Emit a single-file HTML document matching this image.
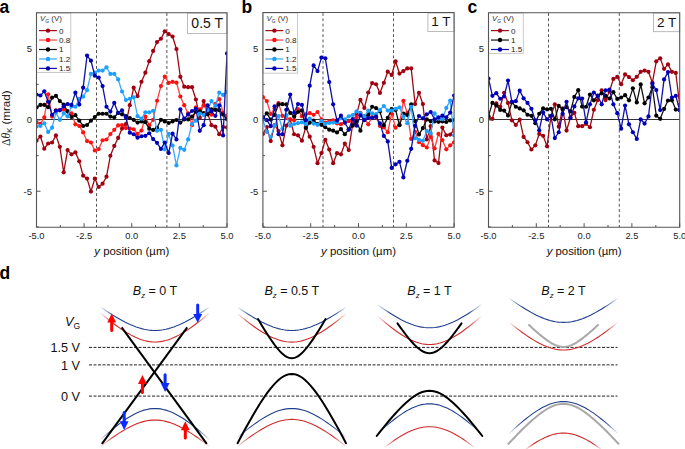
<!DOCTYPE html>
<html><head><meta charset="utf-8"><style>
html,body{margin:0;padding:0;background:#fff;width:685px;height:449px;overflow:hidden}
svg{display:block}
</style></head><body>
<svg width="685" height="449" viewBox="0 0 685 449">
<rect width="685" height="449" fill="#fff"/>
<clipPath id="cpa"><rect x="36.5" y="13.0" width="190.5" height="214.2"/></clipPath>
<line x1="96.50" y1="13.0" x2="96.50" y2="227.2" stroke="#555" stroke-width="1" stroke-dasharray="2.9,2.4"/>
<line x1="166.90" y1="13.0" x2="166.90" y2="227.2" stroke="#555" stroke-width="1" stroke-dasharray="2.9,2.4"/>
<line x1="36.5" y1="119.5" x2="227.0" y2="119.5" stroke="#333" stroke-width="1"/>
<g clip-path="url(#cpa)">
<polyline points="36.50,140.66 40.39,136.53 44.28,148.64 48.16,143.51 52.05,142.51 55.94,135.39 59.83,146.79 63.71,172.30 67.60,150.07 71.49,154.34 75.38,152.35 79.27,161.32 83.15,175.72 87.04,178.57 90.93,191.53 94.82,178.57 98.70,186.98 102.59,183.70 106.48,176.72 110.37,155.77 114.26,145.94 118.14,137.96 122.03,128.55 125.92,123.99 129.81,105.18 133.69,87.65 137.58,96.06 141.47,81.81 145.36,72.69 149.24,61.15 153.13,50.89 157.02,42.05 160.91,38.77 164.80,31.37 168.68,34.07 172.57,36.49 176.46,49.03 180.35,76.82 184.23,86.66 188.12,87.22 192.01,87.22 195.90,99.48 199.79,117.72 203.67,101.05 207.56,112.88 211.45,125.13 215.34,126.70 219.22,134.25 223.11,127.12 227.00,127.41" fill="none" stroke="#a00812" stroke-width="1.3" stroke-linejoin="round"/>
<circle cx="36.50" cy="140.66" r="2.1" fill="#a00010"/>
<circle cx="40.39" cy="136.53" r="2.1" fill="#a00010"/>
<circle cx="44.28" cy="148.64" r="2.1" fill="#a00010"/>
<circle cx="48.16" cy="143.51" r="2.1" fill="#a00010"/>
<circle cx="52.05" cy="142.51" r="2.1" fill="#a00010"/>
<circle cx="55.94" cy="135.39" r="2.1" fill="#a00010"/>
<circle cx="59.83" cy="146.79" r="2.1" fill="#a00010"/>
<circle cx="63.71" cy="172.30" r="2.1" fill="#a00010"/>
<circle cx="67.60" cy="150.07" r="2.1" fill="#a00010"/>
<circle cx="71.49" cy="154.34" r="2.1" fill="#a00010"/>
<circle cx="75.38" cy="152.35" r="2.1" fill="#a00010"/>
<circle cx="79.27" cy="161.32" r="2.1" fill="#a00010"/>
<circle cx="83.15" cy="175.72" r="2.1" fill="#a00010"/>
<circle cx="87.04" cy="178.57" r="2.1" fill="#a00010"/>
<circle cx="90.93" cy="191.53" r="2.1" fill="#a00010"/>
<circle cx="94.82" cy="178.57" r="2.1" fill="#a00010"/>
<circle cx="98.70" cy="186.98" r="2.1" fill="#a00010"/>
<circle cx="102.59" cy="183.70" r="2.1" fill="#a00010"/>
<circle cx="106.48" cy="176.72" r="2.1" fill="#a00010"/>
<circle cx="110.37" cy="155.77" r="2.1" fill="#a00010"/>
<circle cx="114.26" cy="145.94" r="2.1" fill="#a00010"/>
<circle cx="118.14" cy="137.96" r="2.1" fill="#a00010"/>
<circle cx="122.03" cy="128.55" r="2.1" fill="#a00010"/>
<circle cx="125.92" cy="123.99" r="2.1" fill="#a00010"/>
<circle cx="129.81" cy="105.18" r="2.1" fill="#a00010"/>
<circle cx="133.69" cy="87.65" r="2.1" fill="#a00010"/>
<circle cx="137.58" cy="96.06" r="2.1" fill="#a00010"/>
<circle cx="141.47" cy="81.81" r="2.1" fill="#a00010"/>
<circle cx="145.36" cy="72.69" r="2.1" fill="#a00010"/>
<circle cx="149.24" cy="61.15" r="2.1" fill="#a00010"/>
<circle cx="153.13" cy="50.89" r="2.1" fill="#a00010"/>
<circle cx="157.02" cy="42.05" r="2.1" fill="#a00010"/>
<circle cx="160.91" cy="38.77" r="2.1" fill="#a00010"/>
<circle cx="164.80" cy="31.37" r="2.1" fill="#a00010"/>
<circle cx="168.68" cy="34.07" r="2.1" fill="#a00010"/>
<circle cx="172.57" cy="36.49" r="2.1" fill="#a00010"/>
<circle cx="176.46" cy="49.03" r="2.1" fill="#a00010"/>
<circle cx="180.35" cy="76.82" r="2.1" fill="#a00010"/>
<circle cx="184.23" cy="86.66" r="2.1" fill="#a00010"/>
<circle cx="188.12" cy="87.22" r="2.1" fill="#a00010"/>
<circle cx="192.01" cy="87.22" r="2.1" fill="#a00010"/>
<circle cx="195.90" cy="99.48" r="2.1" fill="#a00010"/>
<circle cx="199.79" cy="117.72" r="2.1" fill="#a00010"/>
<circle cx="203.67" cy="101.05" r="2.1" fill="#a00010"/>
<circle cx="207.56" cy="112.88" r="2.1" fill="#a00010"/>
<circle cx="211.45" cy="125.13" r="2.1" fill="#a00010"/>
<circle cx="215.34" cy="126.70" r="2.1" fill="#a00010"/>
<circle cx="219.22" cy="134.25" r="2.1" fill="#a00010"/>
<circle cx="223.11" cy="127.12" r="2.1" fill="#a00010"/>
<circle cx="227.00" cy="127.41" r="2.1" fill="#a00010"/>
<polyline points="36.50,122.42 40.39,123.85 44.28,117.44 48.16,94.35 52.05,116.58 55.94,110.31 59.83,110.31 63.71,109.60 67.60,111.31 71.49,113.30 75.38,124.28 79.27,125.98 83.15,132.40 87.04,141.09 90.93,142.51 94.82,150.50 98.70,149.07 102.59,140.24 106.48,139.52 110.37,134.11 114.26,129.83 118.14,125.42 122.03,125.13 125.92,128.12 129.81,128.55 133.69,129.26 137.58,133.97 141.47,130.54 145.36,116.72 149.24,125.13 153.13,119.86 157.02,100.76 160.91,86.09 164.80,76.54 168.68,82.95 172.57,81.81 176.46,82.66 180.35,96.49 184.23,105.18 188.12,113.44 192.01,125.13 195.90,107.32 199.79,109.31 203.67,105.32 207.56,111.45 211.45,114.73 215.34,103.75 219.22,99.19 223.11,112.73 227.00,115.72" fill="none" stroke="#ff4040" stroke-width="1.3" stroke-linejoin="round"/>
<circle cx="36.50" cy="122.42" r="2.1" fill="#ff1010"/>
<circle cx="40.39" cy="123.85" r="2.1" fill="#ff1010"/>
<circle cx="44.28" cy="117.44" r="2.1" fill="#ff1010"/>
<circle cx="48.16" cy="94.35" r="2.1" fill="#ff1010"/>
<circle cx="52.05" cy="116.58" r="2.1" fill="#ff1010"/>
<circle cx="55.94" cy="110.31" r="2.1" fill="#ff1010"/>
<circle cx="59.83" cy="110.31" r="2.1" fill="#ff1010"/>
<circle cx="63.71" cy="109.60" r="2.1" fill="#ff1010"/>
<circle cx="67.60" cy="111.31" r="2.1" fill="#ff1010"/>
<circle cx="71.49" cy="113.30" r="2.1" fill="#ff1010"/>
<circle cx="75.38" cy="124.28" r="2.1" fill="#ff1010"/>
<circle cx="79.27" cy="125.98" r="2.1" fill="#ff1010"/>
<circle cx="83.15" cy="132.40" r="2.1" fill="#ff1010"/>
<circle cx="87.04" cy="141.09" r="2.1" fill="#ff1010"/>
<circle cx="90.93" cy="142.51" r="2.1" fill="#ff1010"/>
<circle cx="94.82" cy="150.50" r="2.1" fill="#ff1010"/>
<circle cx="98.70" cy="149.07" r="2.1" fill="#ff1010"/>
<circle cx="102.59" cy="140.24" r="2.1" fill="#ff1010"/>
<circle cx="106.48" cy="139.52" r="2.1" fill="#ff1010"/>
<circle cx="110.37" cy="134.11" r="2.1" fill="#ff1010"/>
<circle cx="114.26" cy="129.83" r="2.1" fill="#ff1010"/>
<circle cx="118.14" cy="125.42" r="2.1" fill="#ff1010"/>
<circle cx="122.03" cy="125.13" r="2.1" fill="#ff1010"/>
<circle cx="125.92" cy="128.12" r="2.1" fill="#ff1010"/>
<circle cx="129.81" cy="128.55" r="2.1" fill="#ff1010"/>
<circle cx="133.69" cy="129.26" r="2.1" fill="#ff1010"/>
<circle cx="137.58" cy="133.97" r="2.1" fill="#ff1010"/>
<circle cx="141.47" cy="130.54" r="2.1" fill="#ff1010"/>
<circle cx="145.36" cy="116.72" r="2.1" fill="#ff1010"/>
<circle cx="149.24" cy="125.13" r="2.1" fill="#ff1010"/>
<circle cx="153.13" cy="119.86" r="2.1" fill="#ff1010"/>
<circle cx="157.02" cy="100.76" r="2.1" fill="#ff1010"/>
<circle cx="160.91" cy="86.09" r="2.1" fill="#ff1010"/>
<circle cx="164.80" cy="76.54" r="2.1" fill="#ff1010"/>
<circle cx="168.68" cy="82.95" r="2.1" fill="#ff1010"/>
<circle cx="172.57" cy="81.81" r="2.1" fill="#ff1010"/>
<circle cx="176.46" cy="82.66" r="2.1" fill="#ff1010"/>
<circle cx="180.35" cy="96.49" r="2.1" fill="#ff1010"/>
<circle cx="184.23" cy="105.18" r="2.1" fill="#ff1010"/>
<circle cx="188.12" cy="113.44" r="2.1" fill="#ff1010"/>
<circle cx="192.01" cy="125.13" r="2.1" fill="#ff1010"/>
<circle cx="195.90" cy="107.32" r="2.1" fill="#ff1010"/>
<circle cx="199.79" cy="109.31" r="2.1" fill="#ff1010"/>
<circle cx="203.67" cy="105.32" r="2.1" fill="#ff1010"/>
<circle cx="207.56" cy="111.45" r="2.1" fill="#ff1010"/>
<circle cx="211.45" cy="114.73" r="2.1" fill="#ff1010"/>
<circle cx="215.34" cy="103.75" r="2.1" fill="#ff1010"/>
<circle cx="219.22" cy="99.19" r="2.1" fill="#ff1010"/>
<circle cx="223.11" cy="112.73" r="2.1" fill="#ff1010"/>
<circle cx="227.00" cy="115.72" r="2.1" fill="#ff1010"/>
<polyline points="36.50,107.46 40.39,104.89 44.28,104.89 48.16,107.17 52.05,97.63 55.94,95.92 59.83,101.05 63.71,104.61 67.60,111.45 71.49,117.01 75.38,115.16 79.27,120.71 83.15,125.98 87.04,124.99 90.93,120.71 94.82,117.01 98.70,113.73 102.59,113.73 106.48,113.73 110.37,116.58 114.26,117.29 118.14,113.02 122.03,114.30 125.92,116.15 129.81,118.00 133.69,119.86 137.58,122.56 141.47,121.42 145.36,122.14 149.24,128.69 153.13,129.97 157.02,127.84 160.91,119.86 164.80,121.42 168.68,122.99 172.57,121.42 176.46,120.00 180.35,122.56 184.23,119.43 188.12,119.43 192.01,116.72 195.90,111.73 199.79,111.45 203.67,113.02 207.56,114.30 211.45,109.45 215.34,109.88 219.22,110.03 223.11,114.58 227.00,119.14" fill="none" stroke="#111" stroke-width="1.3" stroke-linejoin="round"/>
<circle cx="36.50" cy="107.46" r="2.1" fill="#000"/>
<circle cx="40.39" cy="104.89" r="2.1" fill="#000"/>
<circle cx="44.28" cy="104.89" r="2.1" fill="#000"/>
<circle cx="48.16" cy="107.17" r="2.1" fill="#000"/>
<circle cx="52.05" cy="97.63" r="2.1" fill="#000"/>
<circle cx="55.94" cy="95.92" r="2.1" fill="#000"/>
<circle cx="59.83" cy="101.05" r="2.1" fill="#000"/>
<circle cx="63.71" cy="104.61" r="2.1" fill="#000"/>
<circle cx="67.60" cy="111.45" r="2.1" fill="#000"/>
<circle cx="71.49" cy="117.01" r="2.1" fill="#000"/>
<circle cx="75.38" cy="115.16" r="2.1" fill="#000"/>
<circle cx="79.27" cy="120.71" r="2.1" fill="#000"/>
<circle cx="83.15" cy="125.98" r="2.1" fill="#000"/>
<circle cx="87.04" cy="124.99" r="2.1" fill="#000"/>
<circle cx="90.93" cy="120.71" r="2.1" fill="#000"/>
<circle cx="94.82" cy="117.01" r="2.1" fill="#000"/>
<circle cx="98.70" cy="113.73" r="2.1" fill="#000"/>
<circle cx="102.59" cy="113.73" r="2.1" fill="#000"/>
<circle cx="106.48" cy="113.73" r="2.1" fill="#000"/>
<circle cx="110.37" cy="116.58" r="2.1" fill="#000"/>
<circle cx="114.26" cy="117.29" r="2.1" fill="#000"/>
<circle cx="118.14" cy="113.02" r="2.1" fill="#000"/>
<circle cx="122.03" cy="114.30" r="2.1" fill="#000"/>
<circle cx="125.92" cy="116.15" r="2.1" fill="#000"/>
<circle cx="129.81" cy="118.00" r="2.1" fill="#000"/>
<circle cx="133.69" cy="119.86" r="2.1" fill="#000"/>
<circle cx="137.58" cy="122.56" r="2.1" fill="#000"/>
<circle cx="141.47" cy="121.42" r="2.1" fill="#000"/>
<circle cx="145.36" cy="122.14" r="2.1" fill="#000"/>
<circle cx="149.24" cy="128.69" r="2.1" fill="#000"/>
<circle cx="153.13" cy="129.97" r="2.1" fill="#000"/>
<circle cx="157.02" cy="127.84" r="2.1" fill="#000"/>
<circle cx="160.91" cy="119.86" r="2.1" fill="#000"/>
<circle cx="164.80" cy="121.42" r="2.1" fill="#000"/>
<circle cx="168.68" cy="122.99" r="2.1" fill="#000"/>
<circle cx="172.57" cy="121.42" r="2.1" fill="#000"/>
<circle cx="176.46" cy="120.00" r="2.1" fill="#000"/>
<circle cx="180.35" cy="122.56" r="2.1" fill="#000"/>
<circle cx="184.23" cy="119.43" r="2.1" fill="#000"/>
<circle cx="188.12" cy="119.43" r="2.1" fill="#000"/>
<circle cx="192.01" cy="116.72" r="2.1" fill="#000"/>
<circle cx="195.90" cy="111.73" r="2.1" fill="#000"/>
<circle cx="199.79" cy="111.45" r="2.1" fill="#000"/>
<circle cx="203.67" cy="113.02" r="2.1" fill="#000"/>
<circle cx="207.56" cy="114.30" r="2.1" fill="#000"/>
<circle cx="211.45" cy="109.45" r="2.1" fill="#000"/>
<circle cx="215.34" cy="109.88" r="2.1" fill="#000"/>
<circle cx="219.22" cy="110.03" r="2.1" fill="#000"/>
<circle cx="223.11" cy="114.58" r="2.1" fill="#000"/>
<circle cx="227.00" cy="119.14" r="2.1" fill="#000"/>
<polyline points="36.50,126.41 40.39,125.98 44.28,123.28 48.16,131.97 52.05,127.69 55.94,112.59 59.83,119.86 63.71,113.44 67.60,116.30 71.49,106.46 75.38,106.75 79.27,98.77 83.15,96.63 87.04,90.22 90.93,73.97 94.82,72.69 98.70,70.55 102.59,70.55 106.48,67.28 110.37,73.97 114.26,73.97 118.14,79.39 122.03,91.50 125.92,100.05 129.81,98.77 133.69,97.34 137.58,116.15 141.47,118.72 145.36,112.31 149.24,112.31 153.13,110.74 157.02,130.83 160.91,129.97 164.80,149.35 168.68,133.97 172.57,145.51 176.46,165.46 180.35,147.93 184.23,149.78 188.12,139.38 192.01,123.99 195.90,120.71 199.79,113.59 203.67,115.01 207.56,110.03 211.45,101.05 215.34,105.89 219.22,92.64 223.11,94.92 227.00,91.78" fill="none" stroke="#3aa8ff" stroke-width="1.3" stroke-linejoin="round"/>
<circle cx="36.50" cy="126.41" r="2.1" fill="#1aa0ff"/>
<circle cx="40.39" cy="125.98" r="2.1" fill="#1aa0ff"/>
<circle cx="44.28" cy="123.28" r="2.1" fill="#1aa0ff"/>
<circle cx="48.16" cy="131.97" r="2.1" fill="#1aa0ff"/>
<circle cx="52.05" cy="127.69" r="2.1" fill="#1aa0ff"/>
<circle cx="55.94" cy="112.59" r="2.1" fill="#1aa0ff"/>
<circle cx="59.83" cy="119.86" r="2.1" fill="#1aa0ff"/>
<circle cx="63.71" cy="113.44" r="2.1" fill="#1aa0ff"/>
<circle cx="67.60" cy="116.30" r="2.1" fill="#1aa0ff"/>
<circle cx="71.49" cy="106.46" r="2.1" fill="#1aa0ff"/>
<circle cx="75.38" cy="106.75" r="2.1" fill="#1aa0ff"/>
<circle cx="79.27" cy="98.77" r="2.1" fill="#1aa0ff"/>
<circle cx="83.15" cy="96.63" r="2.1" fill="#1aa0ff"/>
<circle cx="87.04" cy="90.22" r="2.1" fill="#1aa0ff"/>
<circle cx="90.93" cy="73.97" r="2.1" fill="#1aa0ff"/>
<circle cx="94.82" cy="72.69" r="2.1" fill="#1aa0ff"/>
<circle cx="98.70" cy="70.55" r="2.1" fill="#1aa0ff"/>
<circle cx="102.59" cy="70.55" r="2.1" fill="#1aa0ff"/>
<circle cx="106.48" cy="67.28" r="2.1" fill="#1aa0ff"/>
<circle cx="110.37" cy="73.97" r="2.1" fill="#1aa0ff"/>
<circle cx="114.26" cy="73.97" r="2.1" fill="#1aa0ff"/>
<circle cx="118.14" cy="79.39" r="2.1" fill="#1aa0ff"/>
<circle cx="122.03" cy="91.50" r="2.1" fill="#1aa0ff"/>
<circle cx="125.92" cy="100.05" r="2.1" fill="#1aa0ff"/>
<circle cx="129.81" cy="98.77" r="2.1" fill="#1aa0ff"/>
<circle cx="133.69" cy="97.34" r="2.1" fill="#1aa0ff"/>
<circle cx="137.58" cy="116.15" r="2.1" fill="#1aa0ff"/>
<circle cx="141.47" cy="118.72" r="2.1" fill="#1aa0ff"/>
<circle cx="145.36" cy="112.31" r="2.1" fill="#1aa0ff"/>
<circle cx="149.24" cy="112.31" r="2.1" fill="#1aa0ff"/>
<circle cx="153.13" cy="110.74" r="2.1" fill="#1aa0ff"/>
<circle cx="157.02" cy="130.83" r="2.1" fill="#1aa0ff"/>
<circle cx="160.91" cy="129.97" r="2.1" fill="#1aa0ff"/>
<circle cx="164.80" cy="149.35" r="2.1" fill="#1aa0ff"/>
<circle cx="168.68" cy="133.97" r="2.1" fill="#1aa0ff"/>
<circle cx="172.57" cy="145.51" r="2.1" fill="#1aa0ff"/>
<circle cx="176.46" cy="165.46" r="2.1" fill="#1aa0ff"/>
<circle cx="180.35" cy="147.93" r="2.1" fill="#1aa0ff"/>
<circle cx="184.23" cy="149.78" r="2.1" fill="#1aa0ff"/>
<circle cx="188.12" cy="139.38" r="2.1" fill="#1aa0ff"/>
<circle cx="192.01" cy="123.99" r="2.1" fill="#1aa0ff"/>
<circle cx="195.90" cy="120.71" r="2.1" fill="#1aa0ff"/>
<circle cx="199.79" cy="113.59" r="2.1" fill="#1aa0ff"/>
<circle cx="203.67" cy="115.01" r="2.1" fill="#1aa0ff"/>
<circle cx="207.56" cy="110.03" r="2.1" fill="#1aa0ff"/>
<circle cx="211.45" cy="101.05" r="2.1" fill="#1aa0ff"/>
<circle cx="215.34" cy="105.89" r="2.1" fill="#1aa0ff"/>
<circle cx="219.22" cy="92.64" r="2.1" fill="#1aa0ff"/>
<circle cx="223.11" cy="94.92" r="2.1" fill="#1aa0ff"/>
<circle cx="227.00" cy="91.78" r="2.1" fill="#1aa0ff"/>
<polyline points="36.50,94.49 40.39,95.49 44.28,91.36 48.16,101.76 52.05,114.73 55.94,110.59 59.83,110.17 63.71,106.32 67.60,104.04 71.49,104.89 75.38,92.64 79.27,104.61 83.15,87.65 87.04,55.59 90.93,60.72 94.82,75.68 98.70,77.53 102.59,86.09 106.48,106.75 110.37,111.59 114.26,102.90 118.14,112.73 122.03,110.45 125.92,117.58 129.81,132.68 133.69,134.25 137.58,137.67 141.47,136.25 145.36,135.82 149.24,133.25 153.13,139.09 157.02,142.80 160.91,148.93 164.80,142.51 168.68,153.06 172.57,133.68 176.46,139.38 180.35,109.45 184.23,118.72 188.12,114.44 192.01,111.02 195.90,108.74 199.79,130.83 203.67,125.13 207.56,105.32 211.45,111.45 215.34,115.87 219.22,105.32 223.11,135.39 227.00,53.45" fill="none" stroke="#1010a8" stroke-width="1.3" stroke-linejoin="round"/>
<circle cx="36.50" cy="94.49" r="2.1" fill="#0000b8"/>
<circle cx="40.39" cy="95.49" r="2.1" fill="#0000b8"/>
<circle cx="44.28" cy="91.36" r="2.1" fill="#0000b8"/>
<circle cx="48.16" cy="101.76" r="2.1" fill="#0000b8"/>
<circle cx="52.05" cy="114.73" r="2.1" fill="#0000b8"/>
<circle cx="55.94" cy="110.59" r="2.1" fill="#0000b8"/>
<circle cx="59.83" cy="110.17" r="2.1" fill="#0000b8"/>
<circle cx="63.71" cy="106.32" r="2.1" fill="#0000b8"/>
<circle cx="67.60" cy="104.04" r="2.1" fill="#0000b8"/>
<circle cx="71.49" cy="104.89" r="2.1" fill="#0000b8"/>
<circle cx="75.38" cy="92.64" r="2.1" fill="#0000b8"/>
<circle cx="79.27" cy="104.61" r="2.1" fill="#0000b8"/>
<circle cx="83.15" cy="87.65" r="2.1" fill="#0000b8"/>
<circle cx="87.04" cy="55.59" r="2.1" fill="#0000b8"/>
<circle cx="90.93" cy="60.72" r="2.1" fill="#0000b8"/>
<circle cx="94.82" cy="75.68" r="2.1" fill="#0000b8"/>
<circle cx="98.70" cy="77.53" r="2.1" fill="#0000b8"/>
<circle cx="102.59" cy="86.09" r="2.1" fill="#0000b8"/>
<circle cx="106.48" cy="106.75" r="2.1" fill="#0000b8"/>
<circle cx="110.37" cy="111.59" r="2.1" fill="#0000b8"/>
<circle cx="114.26" cy="102.90" r="2.1" fill="#0000b8"/>
<circle cx="118.14" cy="112.73" r="2.1" fill="#0000b8"/>
<circle cx="122.03" cy="110.45" r="2.1" fill="#0000b8"/>
<circle cx="125.92" cy="117.58" r="2.1" fill="#0000b8"/>
<circle cx="129.81" cy="132.68" r="2.1" fill="#0000b8"/>
<circle cx="133.69" cy="134.25" r="2.1" fill="#0000b8"/>
<circle cx="137.58" cy="137.67" r="2.1" fill="#0000b8"/>
<circle cx="141.47" cy="136.25" r="2.1" fill="#0000b8"/>
<circle cx="145.36" cy="135.82" r="2.1" fill="#0000b8"/>
<circle cx="149.24" cy="133.25" r="2.1" fill="#0000b8"/>
<circle cx="153.13" cy="139.09" r="2.1" fill="#0000b8"/>
<circle cx="157.02" cy="142.80" r="2.1" fill="#0000b8"/>
<circle cx="160.91" cy="148.93" r="2.1" fill="#0000b8"/>
<circle cx="164.80" cy="142.51" r="2.1" fill="#0000b8"/>
<circle cx="168.68" cy="153.06" r="2.1" fill="#0000b8"/>
<circle cx="172.57" cy="133.68" r="2.1" fill="#0000b8"/>
<circle cx="176.46" cy="139.38" r="2.1" fill="#0000b8"/>
<circle cx="180.35" cy="109.45" r="2.1" fill="#0000b8"/>
<circle cx="184.23" cy="118.72" r="2.1" fill="#0000b8"/>
<circle cx="188.12" cy="114.44" r="2.1" fill="#0000b8"/>
<circle cx="192.01" cy="111.02" r="2.1" fill="#0000b8"/>
<circle cx="195.90" cy="108.74" r="2.1" fill="#0000b8"/>
<circle cx="199.79" cy="130.83" r="2.1" fill="#0000b8"/>
<circle cx="203.67" cy="125.13" r="2.1" fill="#0000b8"/>
<circle cx="207.56" cy="105.32" r="2.1" fill="#0000b8"/>
<circle cx="211.45" cy="111.45" r="2.1" fill="#0000b8"/>
<circle cx="215.34" cy="115.87" r="2.1" fill="#0000b8"/>
<circle cx="219.22" cy="105.32" r="2.1" fill="#0000b8"/>
<circle cx="223.11" cy="135.39" r="2.1" fill="#0000b8"/>
<circle cx="227.00" cy="53.45" r="2.1" fill="#0000b8"/>
</g>
<line x1="36.50" y1="227.2" x2="36.50" y2="223.2" stroke="#555" stroke-width="1"/>
<line x1="60.31" y1="227.2" x2="60.31" y2="225.0" stroke="#555" stroke-width="1"/>
<line x1="84.12" y1="227.2" x2="84.12" y2="223.2" stroke="#555" stroke-width="1"/>
<line x1="107.94" y1="227.2" x2="107.94" y2="225.0" stroke="#555" stroke-width="1"/>
<line x1="131.75" y1="227.2" x2="131.75" y2="223.2" stroke="#555" stroke-width="1"/>
<line x1="155.56" y1="227.2" x2="155.56" y2="225.0" stroke="#555" stroke-width="1"/>
<line x1="179.38" y1="227.2" x2="179.38" y2="223.2" stroke="#555" stroke-width="1"/>
<line x1="203.19" y1="227.2" x2="203.19" y2="225.0" stroke="#555" stroke-width="1"/>
<line x1="227.00" y1="227.2" x2="227.00" y2="223.2" stroke="#555" stroke-width="1"/>
<line x1="36.5" y1="226.88" x2="38.7" y2="226.88" stroke="#555" stroke-width="1"/>
<line x1="36.5" y1="191.25" x2="40.5" y2="191.25" stroke="#555" stroke-width="1"/>
<line x1="36.5" y1="155.62" x2="38.7" y2="155.62" stroke="#555" stroke-width="1"/>
<line x1="36.5" y1="120.00" x2="40.5" y2="120.00" stroke="#555" stroke-width="1"/>
<line x1="36.5" y1="84.38" x2="38.7" y2="84.38" stroke="#555" stroke-width="1"/>
<line x1="36.5" y1="48.75" x2="40.5" y2="48.75" stroke="#555" stroke-width="1"/>
<line x1="36.5" y1="13.12" x2="38.7" y2="13.12" stroke="#555" stroke-width="1"/>
<rect x="36.5" y="13.0" width="34.3" height="59.50" fill="#fff" stroke="#c4c4c4" stroke-width="0.9"/>
<text x="40.1" y="20.8" font-family="Liberation Sans, sans-serif" font-size="7.9" fill="#333"><tspan font-style="italic">V</tspan><tspan font-style="italic" font-size="4.8" dy="1.9">G</tspan><tspan font-style="normal" dy="-1.9"> (V)</tspan></text>
<line x1="39.0" y1="30.60" x2="56.9" y2="30.60" stroke="#a00812" stroke-width="1.2"/>
<circle cx="48.0" cy="30.60" r="2.2" fill="#a00010"/>
<text x="58.9" y="33.50" font-family="Liberation Sans, sans-serif" font-size="8.1" fill="#222">0</text>
<line x1="39.0" y1="40.05" x2="56.9" y2="40.05" stroke="#ff4040" stroke-width="1.2"/>
<circle cx="48.0" cy="40.05" r="2.2" fill="#ff1010"/>
<text x="58.9" y="42.95" font-family="Liberation Sans, sans-serif" font-size="8.1" fill="#222">0.8</text>
<line x1="39.0" y1="49.50" x2="56.9" y2="49.50" stroke="#111" stroke-width="1.2"/>
<circle cx="48.0" cy="49.50" r="2.2" fill="#000"/>
<text x="58.9" y="52.40" font-family="Liberation Sans, sans-serif" font-size="8.1" fill="#222">1</text>
<line x1="39.0" y1="58.95" x2="56.9" y2="58.95" stroke="#3aa8ff" stroke-width="1.2"/>
<circle cx="48.0" cy="58.95" r="2.2" fill="#1aa0ff"/>
<text x="58.9" y="61.85" font-family="Liberation Sans, sans-serif" font-size="8.1" fill="#222">1.2</text>
<line x1="39.0" y1="68.40" x2="56.9" y2="68.40" stroke="#1010a8" stroke-width="1.2"/>
<circle cx="48.0" cy="68.40" r="2.2" fill="#0000b8"/>
<text x="58.9" y="71.30" font-family="Liberation Sans, sans-serif" font-size="8.1" fill="#222">1.5</text>
<rect x="187.40" y="13.0" width="39.6" height="20.40" fill="#fff" stroke="#aaa" stroke-width="0.8"/>
<text x="207.20" y="27.9" text-anchor="middle" font-family="Liberation Sans, sans-serif" font-size="14" fill="#111">0.5 T</text>
<path d="M36.5,12.8 H227.0 V227.2 H36.5 Z" fill="none" stroke="#555" stroke-width="1.1"/>
<text x="36.50" y="239.2" text-anchor="middle" font-family="Liberation Sans, sans-serif" font-size="9.4" fill="#222">-5.0</text>
<text x="84.12" y="239.2" text-anchor="middle" font-family="Liberation Sans, sans-serif" font-size="9.4" fill="#222">-2.5</text>
<text x="131.75" y="239.2" text-anchor="middle" font-family="Liberation Sans, sans-serif" font-size="9.4" fill="#222">0.0</text>
<text x="179.38" y="239.2" text-anchor="middle" font-family="Liberation Sans, sans-serif" font-size="9.4" fill="#222">2.5</text>
<text x="227.00" y="239.2" text-anchor="middle" font-family="Liberation Sans, sans-serif" font-size="9.4" fill="#222">5.0</text>
<text x="32.0" y="194.55" text-anchor="end" font-family="Liberation Sans, sans-serif" font-size="9.5" fill="#222">-5</text>
<text x="32.0" y="123.30" text-anchor="end" font-family="Liberation Sans, sans-serif" font-size="9.5" fill="#222">0</text>
<text x="32.0" y="52.05" text-anchor="end" font-family="Liberation Sans, sans-serif" font-size="9.5" fill="#222">5</text>
<text x="131.75" y="255.4" text-anchor="middle" font-family="Liberation Sans, sans-serif" font-size="11.4" fill="#111"><tspan font-style="italic">y</tspan> position (µm)</text>
<clipPath id="cpb"><rect x="262.9" y="13.0" width="191.2" height="214.2"/></clipPath>
<line x1="323.00" y1="13.0" x2="323.00" y2="227.2" stroke="#555" stroke-width="1" stroke-dasharray="2.9,2.4"/>
<line x1="393.50" y1="13.0" x2="393.50" y2="227.2" stroke="#555" stroke-width="1" stroke-dasharray="2.9,2.4"/>
<line x1="262.9" y1="119.5" x2="454.09999999999997" y2="119.5" stroke="#333" stroke-width="1"/>
<g clip-path="url(#cpb)">
<polyline points="262.90,133.97 266.80,127.12 270.70,141.09 274.61,124.99 278.51,131.12 282.41,145.37 286.31,125.56 290.21,119.57 294.12,134.25 298.02,135.39 301.92,140.66 305.82,127.12 309.72,136.67 313.63,146.79 317.53,163.18 321.43,153.06 325.33,139.81 329.23,149.50 333.14,163.18 337.04,153.20 340.94,154.34 344.84,143.66 348.74,150.07 352.65,124.28 356.55,114.44 360.45,99.91 364.35,107.89 368.26,92.50 372.16,83.09 376.06,84.23 379.96,92.92 383.86,82.81 387.77,71.69 391.67,74.97 395.57,61.29 399.47,73.55 403.37,71.12 407.28,68.41 411.18,68.41 415.08,104.04 418.98,92.78 422.88,104.04 426.79,139.38 430.69,126.13 434.59,160.47 438.49,163.03 442.39,127.55 446.30,135.25 450.20,134.53 454.10,129.83" fill="none" stroke="#a00812" stroke-width="1.3" stroke-linejoin="round"/>
<circle cx="262.90" cy="133.97" r="2.1" fill="#a00010"/>
<circle cx="266.80" cy="127.12" r="2.1" fill="#a00010"/>
<circle cx="270.70" cy="141.09" r="2.1" fill="#a00010"/>
<circle cx="274.61" cy="124.99" r="2.1" fill="#a00010"/>
<circle cx="278.51" cy="131.12" r="2.1" fill="#a00010"/>
<circle cx="282.41" cy="145.37" r="2.1" fill="#a00010"/>
<circle cx="286.31" cy="125.56" r="2.1" fill="#a00010"/>
<circle cx="290.21" cy="119.57" r="2.1" fill="#a00010"/>
<circle cx="294.12" cy="134.25" r="2.1" fill="#a00010"/>
<circle cx="298.02" cy="135.39" r="2.1" fill="#a00010"/>
<circle cx="301.92" cy="140.66" r="2.1" fill="#a00010"/>
<circle cx="305.82" cy="127.12" r="2.1" fill="#a00010"/>
<circle cx="309.72" cy="136.67" r="2.1" fill="#a00010"/>
<circle cx="313.63" cy="146.79" r="2.1" fill="#a00010"/>
<circle cx="317.53" cy="163.18" r="2.1" fill="#a00010"/>
<circle cx="321.43" cy="153.06" r="2.1" fill="#a00010"/>
<circle cx="325.33" cy="139.81" r="2.1" fill="#a00010"/>
<circle cx="329.23" cy="149.50" r="2.1" fill="#a00010"/>
<circle cx="333.14" cy="163.18" r="2.1" fill="#a00010"/>
<circle cx="337.04" cy="153.20" r="2.1" fill="#a00010"/>
<circle cx="340.94" cy="154.34" r="2.1" fill="#a00010"/>
<circle cx="344.84" cy="143.66" r="2.1" fill="#a00010"/>
<circle cx="348.74" cy="150.07" r="2.1" fill="#a00010"/>
<circle cx="352.65" cy="124.28" r="2.1" fill="#a00010"/>
<circle cx="356.55" cy="114.44" r="2.1" fill="#a00010"/>
<circle cx="360.45" cy="99.91" r="2.1" fill="#a00010"/>
<circle cx="364.35" cy="107.89" r="2.1" fill="#a00010"/>
<circle cx="368.26" cy="92.50" r="2.1" fill="#a00010"/>
<circle cx="372.16" cy="83.09" r="2.1" fill="#a00010"/>
<circle cx="376.06" cy="84.23" r="2.1" fill="#a00010"/>
<circle cx="379.96" cy="92.92" r="2.1" fill="#a00010"/>
<circle cx="383.86" cy="82.81" r="2.1" fill="#a00010"/>
<circle cx="387.77" cy="71.69" r="2.1" fill="#a00010"/>
<circle cx="391.67" cy="74.97" r="2.1" fill="#a00010"/>
<circle cx="395.57" cy="61.29" r="2.1" fill="#a00010"/>
<circle cx="399.47" cy="73.55" r="2.1" fill="#a00010"/>
<circle cx="403.37" cy="71.12" r="2.1" fill="#a00010"/>
<circle cx="407.28" cy="68.41" r="2.1" fill="#a00010"/>
<circle cx="411.18" cy="68.41" r="2.1" fill="#a00010"/>
<circle cx="415.08" cy="104.04" r="2.1" fill="#a00010"/>
<circle cx="418.98" cy="92.78" r="2.1" fill="#a00010"/>
<circle cx="422.88" cy="104.04" r="2.1" fill="#a00010"/>
<circle cx="426.79" cy="139.38" r="2.1" fill="#a00010"/>
<circle cx="430.69" cy="126.13" r="2.1" fill="#a00010"/>
<circle cx="434.59" cy="160.47" r="2.1" fill="#a00010"/>
<circle cx="438.49" cy="163.03" r="2.1" fill="#a00010"/>
<circle cx="442.39" cy="127.55" r="2.1" fill="#a00010"/>
<circle cx="446.30" cy="135.25" r="2.1" fill="#a00010"/>
<circle cx="450.20" cy="134.53" r="2.1" fill="#a00010"/>
<circle cx="454.10" cy="129.83" r="2.1" fill="#a00010"/>
<polyline points="262.90,97.20 266.80,101.05 270.70,114.02 274.61,108.60 278.51,103.04 282.41,115.87 286.31,117.86 290.21,119.29 294.12,120.14 298.02,109.17 301.92,116.15 305.82,114.30 309.72,113.16 313.63,114.87 317.53,112.02 321.43,119.29 325.33,122.56 329.23,121.42 333.14,120.28 337.04,123.42 340.94,124.13 344.84,122.14 348.74,121.14 352.65,120.00 356.55,117.15 360.45,112.73 364.35,118.58 368.26,124.28 372.16,117.15 376.06,117.15 379.96,125.98 383.86,127.41 387.77,132.25 391.67,113.30 395.57,127.69 399.47,124.28 403.37,100.91 407.28,112.88 411.18,138.95 415.08,131.83 418.98,142.23 422.88,145.22 426.79,147.50 430.69,136.96 434.59,148.50 438.49,133.97 442.39,140.09 446.30,149.35 450.20,145.37 454.10,142.23" fill="none" stroke="#ff4040" stroke-width="1.3" stroke-linejoin="round"/>
<circle cx="262.90" cy="97.20" r="2.1" fill="#ff1010"/>
<circle cx="266.80" cy="101.05" r="2.1" fill="#ff1010"/>
<circle cx="270.70" cy="114.02" r="2.1" fill="#ff1010"/>
<circle cx="274.61" cy="108.60" r="2.1" fill="#ff1010"/>
<circle cx="278.51" cy="103.04" r="2.1" fill="#ff1010"/>
<circle cx="282.41" cy="115.87" r="2.1" fill="#ff1010"/>
<circle cx="286.31" cy="117.86" r="2.1" fill="#ff1010"/>
<circle cx="290.21" cy="119.29" r="2.1" fill="#ff1010"/>
<circle cx="294.12" cy="120.14" r="2.1" fill="#ff1010"/>
<circle cx="298.02" cy="109.17" r="2.1" fill="#ff1010"/>
<circle cx="301.92" cy="116.15" r="2.1" fill="#ff1010"/>
<circle cx="305.82" cy="114.30" r="2.1" fill="#ff1010"/>
<circle cx="309.72" cy="113.16" r="2.1" fill="#ff1010"/>
<circle cx="313.63" cy="114.87" r="2.1" fill="#ff1010"/>
<circle cx="317.53" cy="112.02" r="2.1" fill="#ff1010"/>
<circle cx="321.43" cy="119.29" r="2.1" fill="#ff1010"/>
<circle cx="325.33" cy="122.56" r="2.1" fill="#ff1010"/>
<circle cx="329.23" cy="121.42" r="2.1" fill="#ff1010"/>
<circle cx="333.14" cy="120.28" r="2.1" fill="#ff1010"/>
<circle cx="337.04" cy="123.42" r="2.1" fill="#ff1010"/>
<circle cx="340.94" cy="124.13" r="2.1" fill="#ff1010"/>
<circle cx="344.84" cy="122.14" r="2.1" fill="#ff1010"/>
<circle cx="348.74" cy="121.14" r="2.1" fill="#ff1010"/>
<circle cx="352.65" cy="120.00" r="2.1" fill="#ff1010"/>
<circle cx="356.55" cy="117.15" r="2.1" fill="#ff1010"/>
<circle cx="360.45" cy="112.73" r="2.1" fill="#ff1010"/>
<circle cx="364.35" cy="118.58" r="2.1" fill="#ff1010"/>
<circle cx="368.26" cy="124.28" r="2.1" fill="#ff1010"/>
<circle cx="372.16" cy="117.15" r="2.1" fill="#ff1010"/>
<circle cx="376.06" cy="117.15" r="2.1" fill="#ff1010"/>
<circle cx="379.96" cy="125.98" r="2.1" fill="#ff1010"/>
<circle cx="383.86" cy="127.41" r="2.1" fill="#ff1010"/>
<circle cx="387.77" cy="132.25" r="2.1" fill="#ff1010"/>
<circle cx="391.67" cy="113.30" r="2.1" fill="#ff1010"/>
<circle cx="395.57" cy="127.69" r="2.1" fill="#ff1010"/>
<circle cx="399.47" cy="124.28" r="2.1" fill="#ff1010"/>
<circle cx="403.37" cy="100.91" r="2.1" fill="#ff1010"/>
<circle cx="407.28" cy="112.88" r="2.1" fill="#ff1010"/>
<circle cx="411.18" cy="138.95" r="2.1" fill="#ff1010"/>
<circle cx="415.08" cy="131.83" r="2.1" fill="#ff1010"/>
<circle cx="418.98" cy="142.23" r="2.1" fill="#ff1010"/>
<circle cx="422.88" cy="145.22" r="2.1" fill="#ff1010"/>
<circle cx="426.79" cy="147.50" r="2.1" fill="#ff1010"/>
<circle cx="430.69" cy="136.96" r="2.1" fill="#ff1010"/>
<circle cx="434.59" cy="148.50" r="2.1" fill="#ff1010"/>
<circle cx="438.49" cy="133.97" r="2.1" fill="#ff1010"/>
<circle cx="442.39" cy="140.09" r="2.1" fill="#ff1010"/>
<circle cx="446.30" cy="149.35" r="2.1" fill="#ff1010"/>
<circle cx="450.20" cy="145.37" r="2.1" fill="#ff1010"/>
<circle cx="454.10" cy="142.23" r="2.1" fill="#ff1010"/>
<polyline points="262.90,117.86 266.80,113.30 270.70,119.57 274.61,114.87 278.51,104.47 282.41,104.18 286.31,104.47 290.21,112.88 294.12,116.44 298.02,112.02 301.92,110.45 305.82,127.98 309.72,122.71 313.63,120.71 317.53,123.99 321.43,124.84 325.33,127.27 329.23,129.69 333.14,130.69 337.04,132.40 340.94,129.12 344.84,134.25 348.74,129.55 352.65,125.70 356.55,121.71 360.45,130.69 364.35,116.44 368.26,114.44 372.16,106.75 376.06,108.03 379.96,111.45 383.86,125.13 387.77,117.86 391.67,109.17 395.57,109.88 399.47,125.27 403.37,113.59 407.28,115.01 411.18,104.47 415.08,121.28 418.98,134.39 422.88,128.12 426.79,119.43 430.69,121.28 434.59,121.42 438.49,121.85 442.39,121.42 446.30,122.00 450.20,120.43 454.10,120.00" fill="none" stroke="#111" stroke-width="1.3" stroke-linejoin="round"/>
<circle cx="262.90" cy="117.86" r="2.1" fill="#000"/>
<circle cx="266.80" cy="113.30" r="2.1" fill="#000"/>
<circle cx="270.70" cy="119.57" r="2.1" fill="#000"/>
<circle cx="274.61" cy="114.87" r="2.1" fill="#000"/>
<circle cx="278.51" cy="104.47" r="2.1" fill="#000"/>
<circle cx="282.41" cy="104.18" r="2.1" fill="#000"/>
<circle cx="286.31" cy="104.47" r="2.1" fill="#000"/>
<circle cx="290.21" cy="112.88" r="2.1" fill="#000"/>
<circle cx="294.12" cy="116.44" r="2.1" fill="#000"/>
<circle cx="298.02" cy="112.02" r="2.1" fill="#000"/>
<circle cx="301.92" cy="110.45" r="2.1" fill="#000"/>
<circle cx="305.82" cy="127.98" r="2.1" fill="#000"/>
<circle cx="309.72" cy="122.71" r="2.1" fill="#000"/>
<circle cx="313.63" cy="120.71" r="2.1" fill="#000"/>
<circle cx="317.53" cy="123.99" r="2.1" fill="#000"/>
<circle cx="321.43" cy="124.84" r="2.1" fill="#000"/>
<circle cx="325.33" cy="127.27" r="2.1" fill="#000"/>
<circle cx="329.23" cy="129.69" r="2.1" fill="#000"/>
<circle cx="333.14" cy="130.69" r="2.1" fill="#000"/>
<circle cx="337.04" cy="132.40" r="2.1" fill="#000"/>
<circle cx="340.94" cy="129.12" r="2.1" fill="#000"/>
<circle cx="344.84" cy="134.25" r="2.1" fill="#000"/>
<circle cx="348.74" cy="129.55" r="2.1" fill="#000"/>
<circle cx="352.65" cy="125.70" r="2.1" fill="#000"/>
<circle cx="356.55" cy="121.71" r="2.1" fill="#000"/>
<circle cx="360.45" cy="130.69" r="2.1" fill="#000"/>
<circle cx="364.35" cy="116.44" r="2.1" fill="#000"/>
<circle cx="368.26" cy="114.44" r="2.1" fill="#000"/>
<circle cx="372.16" cy="106.75" r="2.1" fill="#000"/>
<circle cx="376.06" cy="108.03" r="2.1" fill="#000"/>
<circle cx="379.96" cy="111.45" r="2.1" fill="#000"/>
<circle cx="383.86" cy="125.13" r="2.1" fill="#000"/>
<circle cx="387.77" cy="117.86" r="2.1" fill="#000"/>
<circle cx="391.67" cy="109.17" r="2.1" fill="#000"/>
<circle cx="395.57" cy="109.88" r="2.1" fill="#000"/>
<circle cx="399.47" cy="125.27" r="2.1" fill="#000"/>
<circle cx="403.37" cy="113.59" r="2.1" fill="#000"/>
<circle cx="407.28" cy="115.01" r="2.1" fill="#000"/>
<circle cx="411.18" cy="104.47" r="2.1" fill="#000"/>
<circle cx="415.08" cy="121.28" r="2.1" fill="#000"/>
<circle cx="418.98" cy="134.39" r="2.1" fill="#000"/>
<circle cx="422.88" cy="128.12" r="2.1" fill="#000"/>
<circle cx="426.79" cy="119.43" r="2.1" fill="#000"/>
<circle cx="430.69" cy="121.28" r="2.1" fill="#000"/>
<circle cx="434.59" cy="121.42" r="2.1" fill="#000"/>
<circle cx="438.49" cy="121.85" r="2.1" fill="#000"/>
<circle cx="442.39" cy="121.42" r="2.1" fill="#000"/>
<circle cx="446.30" cy="122.00" r="2.1" fill="#000"/>
<circle cx="450.20" cy="120.43" r="2.1" fill="#000"/>
<circle cx="454.10" cy="120.00" r="2.1" fill="#000"/>
<polyline points="262.90,119.72 266.80,131.83 270.70,136.81 274.61,125.42 278.51,116.01 282.41,128.84 286.31,115.16 290.21,125.70 294.12,123.99 298.02,123.14 301.92,122.28 305.82,124.13 309.72,118.72 313.63,123.56 317.53,124.84 321.43,121.14 325.33,123.85 329.23,122.99 333.14,122.56 337.04,122.14 340.94,118.29 344.84,119.43 348.74,116.30 352.65,115.01 356.55,111.31 360.45,113.44 364.35,116.72 368.26,110.59 372.16,113.44 376.06,114.02 379.96,109.88 383.86,106.03 387.77,110.59 391.67,110.59 395.57,108.74 399.47,107.32 403.37,116.72 407.28,123.14 411.18,106.89 415.08,138.24 418.98,139.95 422.88,140.81 426.79,131.12 430.69,133.40 434.59,113.44 438.49,118.58 442.39,119.14 446.30,107.89 450.20,100.62 454.10,135.25" fill="none" stroke="#3aa8ff" stroke-width="1.3" stroke-linejoin="round"/>
<circle cx="262.90" cy="119.72" r="2.1" fill="#1aa0ff"/>
<circle cx="266.80" cy="131.83" r="2.1" fill="#1aa0ff"/>
<circle cx="270.70" cy="136.81" r="2.1" fill="#1aa0ff"/>
<circle cx="274.61" cy="125.42" r="2.1" fill="#1aa0ff"/>
<circle cx="278.51" cy="116.01" r="2.1" fill="#1aa0ff"/>
<circle cx="282.41" cy="128.84" r="2.1" fill="#1aa0ff"/>
<circle cx="286.31" cy="115.16" r="2.1" fill="#1aa0ff"/>
<circle cx="290.21" cy="125.70" r="2.1" fill="#1aa0ff"/>
<circle cx="294.12" cy="123.99" r="2.1" fill="#1aa0ff"/>
<circle cx="298.02" cy="123.14" r="2.1" fill="#1aa0ff"/>
<circle cx="301.92" cy="122.28" r="2.1" fill="#1aa0ff"/>
<circle cx="305.82" cy="124.13" r="2.1" fill="#1aa0ff"/>
<circle cx="309.72" cy="118.72" r="2.1" fill="#1aa0ff"/>
<circle cx="313.63" cy="123.56" r="2.1" fill="#1aa0ff"/>
<circle cx="317.53" cy="124.84" r="2.1" fill="#1aa0ff"/>
<circle cx="321.43" cy="121.14" r="2.1" fill="#1aa0ff"/>
<circle cx="325.33" cy="123.85" r="2.1" fill="#1aa0ff"/>
<circle cx="329.23" cy="122.99" r="2.1" fill="#1aa0ff"/>
<circle cx="333.14" cy="122.56" r="2.1" fill="#1aa0ff"/>
<circle cx="337.04" cy="122.14" r="2.1" fill="#1aa0ff"/>
<circle cx="340.94" cy="118.29" r="2.1" fill="#1aa0ff"/>
<circle cx="344.84" cy="119.43" r="2.1" fill="#1aa0ff"/>
<circle cx="348.74" cy="116.30" r="2.1" fill="#1aa0ff"/>
<circle cx="352.65" cy="115.01" r="2.1" fill="#1aa0ff"/>
<circle cx="356.55" cy="111.31" r="2.1" fill="#1aa0ff"/>
<circle cx="360.45" cy="113.44" r="2.1" fill="#1aa0ff"/>
<circle cx="364.35" cy="116.72" r="2.1" fill="#1aa0ff"/>
<circle cx="368.26" cy="110.59" r="2.1" fill="#1aa0ff"/>
<circle cx="372.16" cy="113.44" r="2.1" fill="#1aa0ff"/>
<circle cx="376.06" cy="114.02" r="2.1" fill="#1aa0ff"/>
<circle cx="379.96" cy="109.88" r="2.1" fill="#1aa0ff"/>
<circle cx="383.86" cy="106.03" r="2.1" fill="#1aa0ff"/>
<circle cx="387.77" cy="110.59" r="2.1" fill="#1aa0ff"/>
<circle cx="391.67" cy="110.59" r="2.1" fill="#1aa0ff"/>
<circle cx="395.57" cy="108.74" r="2.1" fill="#1aa0ff"/>
<circle cx="399.47" cy="107.32" r="2.1" fill="#1aa0ff"/>
<circle cx="403.37" cy="116.72" r="2.1" fill="#1aa0ff"/>
<circle cx="407.28" cy="123.14" r="2.1" fill="#1aa0ff"/>
<circle cx="411.18" cy="106.89" r="2.1" fill="#1aa0ff"/>
<circle cx="415.08" cy="138.24" r="2.1" fill="#1aa0ff"/>
<circle cx="418.98" cy="139.95" r="2.1" fill="#1aa0ff"/>
<circle cx="422.88" cy="140.81" r="2.1" fill="#1aa0ff"/>
<circle cx="426.79" cy="131.12" r="2.1" fill="#1aa0ff"/>
<circle cx="430.69" cy="133.40" r="2.1" fill="#1aa0ff"/>
<circle cx="434.59" cy="113.44" r="2.1" fill="#1aa0ff"/>
<circle cx="438.49" cy="118.58" r="2.1" fill="#1aa0ff"/>
<circle cx="442.39" cy="119.14" r="2.1" fill="#1aa0ff"/>
<circle cx="446.30" cy="107.89" r="2.1" fill="#1aa0ff"/>
<circle cx="450.20" cy="100.62" r="2.1" fill="#1aa0ff"/>
<circle cx="454.10" cy="135.25" r="2.1" fill="#1aa0ff"/>
<polyline points="262.90,117.15 266.80,120.14 270.70,126.13 274.61,106.32 278.51,134.25 282.41,134.25 286.31,109.74 290.21,94.49 294.12,112.73 298.02,104.04 301.92,104.89 305.82,120.14 309.72,85.66 313.63,65.42 317.53,71.12 321.43,57.59 325.33,58.30 329.23,82.09 333.14,104.33 337.04,120.43 340.94,115.72 344.84,122.71 348.74,129.55 352.65,119.14 356.55,125.70 360.45,115.44 364.35,120.14 368.26,117.86 372.16,117.86 376.06,116.72 379.96,123.42 383.86,135.96 387.77,141.38 391.67,167.88 395.57,164.32 399.47,161.75 403.37,177.43 407.28,160.75 411.18,148.78 415.08,125.84 418.98,116.01 422.88,118.29 426.79,114.30 430.69,112.02 434.59,119.29 438.49,117.44 442.39,115.72 446.30,117.29 450.20,112.59 454.10,95.49" fill="none" stroke="#1010a8" stroke-width="1.3" stroke-linejoin="round"/>
<circle cx="262.90" cy="117.15" r="2.1" fill="#0000b8"/>
<circle cx="266.80" cy="120.14" r="2.1" fill="#0000b8"/>
<circle cx="270.70" cy="126.13" r="2.1" fill="#0000b8"/>
<circle cx="274.61" cy="106.32" r="2.1" fill="#0000b8"/>
<circle cx="278.51" cy="134.25" r="2.1" fill="#0000b8"/>
<circle cx="282.41" cy="134.25" r="2.1" fill="#0000b8"/>
<circle cx="286.31" cy="109.74" r="2.1" fill="#0000b8"/>
<circle cx="290.21" cy="94.49" r="2.1" fill="#0000b8"/>
<circle cx="294.12" cy="112.73" r="2.1" fill="#0000b8"/>
<circle cx="298.02" cy="104.04" r="2.1" fill="#0000b8"/>
<circle cx="301.92" cy="104.89" r="2.1" fill="#0000b8"/>
<circle cx="305.82" cy="120.14" r="2.1" fill="#0000b8"/>
<circle cx="309.72" cy="85.66" r="2.1" fill="#0000b8"/>
<circle cx="313.63" cy="65.42" r="2.1" fill="#0000b8"/>
<circle cx="317.53" cy="71.12" r="2.1" fill="#0000b8"/>
<circle cx="321.43" cy="57.59" r="2.1" fill="#0000b8"/>
<circle cx="325.33" cy="58.30" r="2.1" fill="#0000b8"/>
<circle cx="329.23" cy="82.09" r="2.1" fill="#0000b8"/>
<circle cx="333.14" cy="104.33" r="2.1" fill="#0000b8"/>
<circle cx="337.04" cy="120.43" r="2.1" fill="#0000b8"/>
<circle cx="340.94" cy="115.72" r="2.1" fill="#0000b8"/>
<circle cx="344.84" cy="122.71" r="2.1" fill="#0000b8"/>
<circle cx="348.74" cy="129.55" r="2.1" fill="#0000b8"/>
<circle cx="352.65" cy="119.14" r="2.1" fill="#0000b8"/>
<circle cx="356.55" cy="125.70" r="2.1" fill="#0000b8"/>
<circle cx="360.45" cy="115.44" r="2.1" fill="#0000b8"/>
<circle cx="364.35" cy="120.14" r="2.1" fill="#0000b8"/>
<circle cx="368.26" cy="117.86" r="2.1" fill="#0000b8"/>
<circle cx="372.16" cy="117.86" r="2.1" fill="#0000b8"/>
<circle cx="376.06" cy="116.72" r="2.1" fill="#0000b8"/>
<circle cx="379.96" cy="123.42" r="2.1" fill="#0000b8"/>
<circle cx="383.86" cy="135.96" r="2.1" fill="#0000b8"/>
<circle cx="387.77" cy="141.38" r="2.1" fill="#0000b8"/>
<circle cx="391.67" cy="167.88" r="2.1" fill="#0000b8"/>
<circle cx="395.57" cy="164.32" r="2.1" fill="#0000b8"/>
<circle cx="399.47" cy="161.75" r="2.1" fill="#0000b8"/>
<circle cx="403.37" cy="177.43" r="2.1" fill="#0000b8"/>
<circle cx="407.28" cy="160.75" r="2.1" fill="#0000b8"/>
<circle cx="411.18" cy="148.78" r="2.1" fill="#0000b8"/>
<circle cx="415.08" cy="125.84" r="2.1" fill="#0000b8"/>
<circle cx="418.98" cy="116.01" r="2.1" fill="#0000b8"/>
<circle cx="422.88" cy="118.29" r="2.1" fill="#0000b8"/>
<circle cx="426.79" cy="114.30" r="2.1" fill="#0000b8"/>
<circle cx="430.69" cy="112.02" r="2.1" fill="#0000b8"/>
<circle cx="434.59" cy="119.29" r="2.1" fill="#0000b8"/>
<circle cx="438.49" cy="117.44" r="2.1" fill="#0000b8"/>
<circle cx="442.39" cy="115.72" r="2.1" fill="#0000b8"/>
<circle cx="446.30" cy="117.29" r="2.1" fill="#0000b8"/>
<circle cx="450.20" cy="112.59" r="2.1" fill="#0000b8"/>
<circle cx="454.10" cy="95.49" r="2.1" fill="#0000b8"/>
</g>
<line x1="262.90" y1="227.2" x2="262.90" y2="223.2" stroke="#555" stroke-width="1"/>
<line x1="286.80" y1="227.2" x2="286.80" y2="225.0" stroke="#555" stroke-width="1"/>
<line x1="310.70" y1="227.2" x2="310.70" y2="223.2" stroke="#555" stroke-width="1"/>
<line x1="334.60" y1="227.2" x2="334.60" y2="225.0" stroke="#555" stroke-width="1"/>
<line x1="358.50" y1="227.2" x2="358.50" y2="223.2" stroke="#555" stroke-width="1"/>
<line x1="382.40" y1="227.2" x2="382.40" y2="225.0" stroke="#555" stroke-width="1"/>
<line x1="406.30" y1="227.2" x2="406.30" y2="223.2" stroke="#555" stroke-width="1"/>
<line x1="430.20" y1="227.2" x2="430.20" y2="225.0" stroke="#555" stroke-width="1"/>
<line x1="454.10" y1="227.2" x2="454.10" y2="223.2" stroke="#555" stroke-width="1"/>
<line x1="262.9" y1="226.88" x2="265.09999999999997" y2="226.88" stroke="#555" stroke-width="1"/>
<line x1="262.9" y1="191.25" x2="266.9" y2="191.25" stroke="#555" stroke-width="1"/>
<line x1="262.9" y1="155.62" x2="265.09999999999997" y2="155.62" stroke="#555" stroke-width="1"/>
<line x1="262.9" y1="120.00" x2="266.9" y2="120.00" stroke="#555" stroke-width="1"/>
<line x1="262.9" y1="84.38" x2="265.09999999999997" y2="84.38" stroke="#555" stroke-width="1"/>
<line x1="262.9" y1="48.75" x2="266.9" y2="48.75" stroke="#555" stroke-width="1"/>
<line x1="262.9" y1="13.12" x2="265.09999999999997" y2="13.12" stroke="#555" stroke-width="1"/>
<rect x="262.9" y="13.0" width="34.7" height="60.20" fill="#fff" stroke="#c4c4c4" stroke-width="0.9"/>
<text x="266.5" y="20.8" font-family="Liberation Sans, sans-serif" font-size="7.9" fill="#333"><tspan font-style="italic">V</tspan><tspan font-style="italic" font-size="4.8" dy="1.9">G</tspan><tspan font-style="normal" dy="-1.9"> (V)</tspan></text>
<line x1="265.4" y1="30.60" x2="283.29999999999995" y2="30.60" stroke="#a00812" stroke-width="1.2"/>
<circle cx="274.4" cy="30.60" r="2.2" fill="#a00010"/>
<text x="285.29999999999995" y="33.50" font-family="Liberation Sans, sans-serif" font-size="8.1" fill="#222">0</text>
<line x1="265.4" y1="40.05" x2="283.29999999999995" y2="40.05" stroke="#ff4040" stroke-width="1.2"/>
<circle cx="274.4" cy="40.05" r="2.2" fill="#ff1010"/>
<text x="285.29999999999995" y="42.95" font-family="Liberation Sans, sans-serif" font-size="8.1" fill="#222">0.8</text>
<line x1="265.4" y1="49.50" x2="283.29999999999995" y2="49.50" stroke="#111" stroke-width="1.2"/>
<circle cx="274.4" cy="49.50" r="2.2" fill="#000"/>
<text x="285.29999999999995" y="52.40" font-family="Liberation Sans, sans-serif" font-size="8.1" fill="#222">1</text>
<line x1="265.4" y1="58.95" x2="283.29999999999995" y2="58.95" stroke="#3aa8ff" stroke-width="1.2"/>
<circle cx="274.4" cy="58.95" r="2.2" fill="#1aa0ff"/>
<text x="285.29999999999995" y="61.85" font-family="Liberation Sans, sans-serif" font-size="8.1" fill="#222">1.2</text>
<line x1="265.4" y1="68.40" x2="283.29999999999995" y2="68.40" stroke="#1010a8" stroke-width="1.2"/>
<circle cx="274.4" cy="68.40" r="2.2" fill="#0000b8"/>
<text x="285.29999999999995" y="71.30" font-family="Liberation Sans, sans-serif" font-size="8.1" fill="#222">1.5</text>
<rect x="427.90" y="13.0" width="26.2" height="18.40" fill="#fff" stroke="#aaa" stroke-width="0.8"/>
<text x="441.00" y="26.4" text-anchor="middle" font-family="Liberation Sans, sans-serif" font-size="13.5" fill="#111">1 T</text>
<path d="M262.9,12.5 H454.09999999999997 V227.2 H262.9 Z" fill="none" stroke="#555" stroke-width="1.1"/>
<text x="262.90" y="239.2" text-anchor="middle" font-family="Liberation Sans, sans-serif" font-size="9.4" fill="#222">-5.0</text>
<text x="310.70" y="239.2" text-anchor="middle" font-family="Liberation Sans, sans-serif" font-size="9.4" fill="#222">-2.5</text>
<text x="358.50" y="239.2" text-anchor="middle" font-family="Liberation Sans, sans-serif" font-size="9.4" fill="#222">0.0</text>
<text x="406.30" y="239.2" text-anchor="middle" font-family="Liberation Sans, sans-serif" font-size="9.4" fill="#222">2.5</text>
<text x="454.10" y="239.2" text-anchor="middle" font-family="Liberation Sans, sans-serif" font-size="9.4" fill="#222">5.0</text>
<text x="258.4" y="194.55" text-anchor="end" font-family="Liberation Sans, sans-serif" font-size="9.5" fill="#222">-5</text>
<text x="258.4" y="123.30" text-anchor="end" font-family="Liberation Sans, sans-serif" font-size="9.5" fill="#222">0</text>
<text x="258.4" y="52.05" text-anchor="end" font-family="Liberation Sans, sans-serif" font-size="9.5" fill="#222">5</text>
<text x="358.50" y="255.4" text-anchor="middle" font-family="Liberation Sans, sans-serif" font-size="11.4" fill="#111"><tspan font-style="italic">y</tspan> position (µm)</text>
<clipPath id="cpc"><rect x="488.5" y="13.0" width="191.20000000000005" height="214.2"/></clipPath>
<line x1="548.50" y1="13.0" x2="548.50" y2="227.2" stroke="#555" stroke-width="1" stroke-dasharray="2.9,2.4"/>
<line x1="619.30" y1="13.0" x2="619.30" y2="227.2" stroke="#555" stroke-width="1" stroke-dasharray="2.9,2.4"/>
<line x1="488.5" y1="119.5" x2="679.7" y2="119.5" stroke="#333" stroke-width="1"/>
<g clip-path="url(#cpc)">
<polyline points="488.50,117.86 492.40,118.86 496.30,103.47 500.21,106.75 504.11,92.78 508.01,102.90 511.91,120.28 515.81,124.99 519.72,119.72 523.62,136.96 527.52,142.23 531.42,149.50 535.32,145.37 539.23,133.97 543.13,135.82 547.03,146.36 550.93,116.15 554.83,104.33 558.74,126.70 562.64,108.46 566.54,130.54 570.44,117.72 574.34,112.73 578.25,126.13 582.15,126.13 586.05,123.85 589.95,127.27 593.86,109.74 597.76,100.05 601.66,90.36 605.56,100.05 609.46,91.50 613.37,78.96 617.27,76.97 621.17,84.23 625.07,74.40 628.97,77.11 632.88,80.24 636.78,76.82 640.68,71.84 644.58,70.55 648.48,71.84 652.39,82.66 656.29,61.29 660.19,58.30 664.09,68.84 667.99,64.43 671.90,71.84 675.80,72.97 679.70,104.89" fill="none" stroke="#a00812" stroke-width="1.3" stroke-linejoin="round"/>
<circle cx="488.50" cy="117.86" r="2.1" fill="#a00010"/>
<circle cx="492.40" cy="118.86" r="2.1" fill="#a00010"/>
<circle cx="496.30" cy="103.47" r="2.1" fill="#a00010"/>
<circle cx="500.21" cy="106.75" r="2.1" fill="#a00010"/>
<circle cx="504.11" cy="92.78" r="2.1" fill="#a00010"/>
<circle cx="508.01" cy="102.90" r="2.1" fill="#a00010"/>
<circle cx="511.91" cy="120.28" r="2.1" fill="#a00010"/>
<circle cx="515.81" cy="124.99" r="2.1" fill="#a00010"/>
<circle cx="519.72" cy="119.72" r="2.1" fill="#a00010"/>
<circle cx="523.62" cy="136.96" r="2.1" fill="#a00010"/>
<circle cx="527.52" cy="142.23" r="2.1" fill="#a00010"/>
<circle cx="531.42" cy="149.50" r="2.1" fill="#a00010"/>
<circle cx="535.32" cy="145.37" r="2.1" fill="#a00010"/>
<circle cx="539.23" cy="133.97" r="2.1" fill="#a00010"/>
<circle cx="543.13" cy="135.82" r="2.1" fill="#a00010"/>
<circle cx="547.03" cy="146.36" r="2.1" fill="#a00010"/>
<circle cx="550.93" cy="116.15" r="2.1" fill="#a00010"/>
<circle cx="554.83" cy="104.33" r="2.1" fill="#a00010"/>
<circle cx="558.74" cy="126.70" r="2.1" fill="#a00010"/>
<circle cx="562.64" cy="108.46" r="2.1" fill="#a00010"/>
<circle cx="566.54" cy="130.54" r="2.1" fill="#a00010"/>
<circle cx="570.44" cy="117.72" r="2.1" fill="#a00010"/>
<circle cx="574.34" cy="112.73" r="2.1" fill="#a00010"/>
<circle cx="578.25" cy="126.13" r="2.1" fill="#a00010"/>
<circle cx="582.15" cy="126.13" r="2.1" fill="#a00010"/>
<circle cx="586.05" cy="123.85" r="2.1" fill="#a00010"/>
<circle cx="589.95" cy="127.27" r="2.1" fill="#a00010"/>
<circle cx="593.86" cy="109.74" r="2.1" fill="#a00010"/>
<circle cx="597.76" cy="100.05" r="2.1" fill="#a00010"/>
<circle cx="601.66" cy="90.36" r="2.1" fill="#a00010"/>
<circle cx="605.56" cy="100.05" r="2.1" fill="#a00010"/>
<circle cx="609.46" cy="91.50" r="2.1" fill="#a00010"/>
<circle cx="613.37" cy="78.96" r="2.1" fill="#a00010"/>
<circle cx="617.27" cy="76.97" r="2.1" fill="#a00010"/>
<circle cx="621.17" cy="84.23" r="2.1" fill="#a00010"/>
<circle cx="625.07" cy="74.40" r="2.1" fill="#a00010"/>
<circle cx="628.97" cy="77.11" r="2.1" fill="#a00010"/>
<circle cx="632.88" cy="80.24" r="2.1" fill="#a00010"/>
<circle cx="636.78" cy="76.82" r="2.1" fill="#a00010"/>
<circle cx="640.68" cy="71.84" r="2.1" fill="#a00010"/>
<circle cx="644.58" cy="70.55" r="2.1" fill="#a00010"/>
<circle cx="648.48" cy="71.84" r="2.1" fill="#a00010"/>
<circle cx="652.39" cy="82.66" r="2.1" fill="#a00010"/>
<circle cx="656.29" cy="61.29" r="2.1" fill="#a00010"/>
<circle cx="660.19" cy="58.30" r="2.1" fill="#a00010"/>
<circle cx="664.09" cy="68.84" r="2.1" fill="#a00010"/>
<circle cx="667.99" cy="64.43" r="2.1" fill="#a00010"/>
<circle cx="671.90" cy="71.84" r="2.1" fill="#a00010"/>
<circle cx="675.80" cy="72.97" r="2.1" fill="#a00010"/>
<circle cx="679.70" cy="104.89" r="2.1" fill="#a00010"/>
<polyline points="488.50,116.15 492.40,102.90 496.30,105.47 500.21,109.88 504.11,110.59 508.01,115.44 511.91,102.33 515.81,106.75 519.72,108.46 523.62,110.31 527.52,114.73 531.42,115.87 535.32,123.14 539.23,113.73 543.13,108.46 547.03,109.31 550.93,108.74 554.83,119.29 558.74,105.89 562.64,109.45 566.54,107.17 570.44,111.45 574.34,96.91 578.25,90.22 582.15,106.61 586.05,106.75 589.95,94.49 593.86,100.34 597.76,95.49 601.66,93.35 605.56,95.78 609.46,98.48 613.37,92.21 617.27,98.91 621.17,97.48 625.07,95.20 628.97,100.34 632.88,88.36 636.78,102.47 640.68,84.38 644.58,103.33 648.48,97.48 652.39,87.22 656.29,115.72 660.19,118.86 664.09,108.89 667.99,100.48 671.90,100.34 675.80,109.60 679.70,110.03" fill="none" stroke="#111" stroke-width="1.3" stroke-linejoin="round"/>
<circle cx="488.50" cy="116.15" r="2.1" fill="#000"/>
<circle cx="492.40" cy="102.90" r="2.1" fill="#000"/>
<circle cx="496.30" cy="105.47" r="2.1" fill="#000"/>
<circle cx="500.21" cy="109.88" r="2.1" fill="#000"/>
<circle cx="504.11" cy="110.59" r="2.1" fill="#000"/>
<circle cx="508.01" cy="115.44" r="2.1" fill="#000"/>
<circle cx="511.91" cy="102.33" r="2.1" fill="#000"/>
<circle cx="515.81" cy="106.75" r="2.1" fill="#000"/>
<circle cx="519.72" cy="108.46" r="2.1" fill="#000"/>
<circle cx="523.62" cy="110.31" r="2.1" fill="#000"/>
<circle cx="527.52" cy="114.73" r="2.1" fill="#000"/>
<circle cx="531.42" cy="115.87" r="2.1" fill="#000"/>
<circle cx="535.32" cy="123.14" r="2.1" fill="#000"/>
<circle cx="539.23" cy="113.73" r="2.1" fill="#000"/>
<circle cx="543.13" cy="108.46" r="2.1" fill="#000"/>
<circle cx="547.03" cy="109.31" r="2.1" fill="#000"/>
<circle cx="550.93" cy="108.74" r="2.1" fill="#000"/>
<circle cx="554.83" cy="119.29" r="2.1" fill="#000"/>
<circle cx="558.74" cy="105.89" r="2.1" fill="#000"/>
<circle cx="562.64" cy="109.45" r="2.1" fill="#000"/>
<circle cx="566.54" cy="107.17" r="2.1" fill="#000"/>
<circle cx="570.44" cy="111.45" r="2.1" fill="#000"/>
<circle cx="574.34" cy="96.91" r="2.1" fill="#000"/>
<circle cx="578.25" cy="90.22" r="2.1" fill="#000"/>
<circle cx="582.15" cy="106.61" r="2.1" fill="#000"/>
<circle cx="586.05" cy="106.75" r="2.1" fill="#000"/>
<circle cx="589.95" cy="94.49" r="2.1" fill="#000"/>
<circle cx="593.86" cy="100.34" r="2.1" fill="#000"/>
<circle cx="597.76" cy="95.49" r="2.1" fill="#000"/>
<circle cx="601.66" cy="93.35" r="2.1" fill="#000"/>
<circle cx="605.56" cy="95.78" r="2.1" fill="#000"/>
<circle cx="609.46" cy="98.48" r="2.1" fill="#000"/>
<circle cx="613.37" cy="92.21" r="2.1" fill="#000"/>
<circle cx="617.27" cy="98.91" r="2.1" fill="#000"/>
<circle cx="621.17" cy="97.48" r="2.1" fill="#000"/>
<circle cx="625.07" cy="95.20" r="2.1" fill="#000"/>
<circle cx="628.97" cy="100.34" r="2.1" fill="#000"/>
<circle cx="632.88" cy="88.36" r="2.1" fill="#000"/>
<circle cx="636.78" cy="102.47" r="2.1" fill="#000"/>
<circle cx="640.68" cy="84.38" r="2.1" fill="#000"/>
<circle cx="644.58" cy="103.33" r="2.1" fill="#000"/>
<circle cx="648.48" cy="97.48" r="2.1" fill="#000"/>
<circle cx="652.39" cy="87.22" r="2.1" fill="#000"/>
<circle cx="656.29" cy="115.72" r="2.1" fill="#000"/>
<circle cx="660.19" cy="118.86" r="2.1" fill="#000"/>
<circle cx="664.09" cy="108.89" r="2.1" fill="#000"/>
<circle cx="667.99" cy="100.48" r="2.1" fill="#000"/>
<circle cx="671.90" cy="100.34" r="2.1" fill="#000"/>
<circle cx="675.80" cy="109.60" r="2.1" fill="#000"/>
<circle cx="679.70" cy="110.03" r="2.1" fill="#000"/>
<polyline points="488.50,78.68 492.40,95.78 496.30,93.21 500.21,98.77 504.11,96.49 508.01,80.53 511.91,101.76 515.81,101.19 519.72,90.64 523.62,98.34 527.52,102.90 531.42,108.74 535.32,120.28 539.23,130.26 543.13,112.45 547.03,119.29 550.93,115.87 554.83,138.10 558.74,132.25 562.64,113.87 566.54,101.76 570.44,118.00 574.34,106.46 578.25,98.34 582.15,98.48 586.05,122.28 589.95,104.33 593.86,92.50 597.76,96.06 601.66,104.33 605.56,90.36 609.46,89.65 613.37,104.33 617.27,113.16 621.17,128.69 625.07,105.61 628.97,124.28 632.88,132.25 636.78,138.95 640.68,119.29 644.58,123.56 648.48,116.44 652.39,83.66 656.29,90.08 660.19,110.03 664.09,79.39 667.99,72.12 671.90,97.48 675.80,95.92 679.70,110.03" fill="none" stroke="#1010a8" stroke-width="1.3" stroke-linejoin="round"/>
<circle cx="488.50" cy="78.68" r="2.1" fill="#0000b8"/>
<circle cx="492.40" cy="95.78" r="2.1" fill="#0000b8"/>
<circle cx="496.30" cy="93.21" r="2.1" fill="#0000b8"/>
<circle cx="500.21" cy="98.77" r="2.1" fill="#0000b8"/>
<circle cx="504.11" cy="96.49" r="2.1" fill="#0000b8"/>
<circle cx="508.01" cy="80.53" r="2.1" fill="#0000b8"/>
<circle cx="511.91" cy="101.76" r="2.1" fill="#0000b8"/>
<circle cx="515.81" cy="101.19" r="2.1" fill="#0000b8"/>
<circle cx="519.72" cy="90.64" r="2.1" fill="#0000b8"/>
<circle cx="523.62" cy="98.34" r="2.1" fill="#0000b8"/>
<circle cx="527.52" cy="102.90" r="2.1" fill="#0000b8"/>
<circle cx="531.42" cy="108.74" r="2.1" fill="#0000b8"/>
<circle cx="535.32" cy="120.28" r="2.1" fill="#0000b8"/>
<circle cx="539.23" cy="130.26" r="2.1" fill="#0000b8"/>
<circle cx="543.13" cy="112.45" r="2.1" fill="#0000b8"/>
<circle cx="547.03" cy="119.29" r="2.1" fill="#0000b8"/>
<circle cx="550.93" cy="115.87" r="2.1" fill="#0000b8"/>
<circle cx="554.83" cy="138.10" r="2.1" fill="#0000b8"/>
<circle cx="558.74" cy="132.25" r="2.1" fill="#0000b8"/>
<circle cx="562.64" cy="113.87" r="2.1" fill="#0000b8"/>
<circle cx="566.54" cy="101.76" r="2.1" fill="#0000b8"/>
<circle cx="570.44" cy="118.00" r="2.1" fill="#0000b8"/>
<circle cx="574.34" cy="106.46" r="2.1" fill="#0000b8"/>
<circle cx="578.25" cy="98.34" r="2.1" fill="#0000b8"/>
<circle cx="582.15" cy="98.48" r="2.1" fill="#0000b8"/>
<circle cx="586.05" cy="122.28" r="2.1" fill="#0000b8"/>
<circle cx="589.95" cy="104.33" r="2.1" fill="#0000b8"/>
<circle cx="593.86" cy="92.50" r="2.1" fill="#0000b8"/>
<circle cx="597.76" cy="96.06" r="2.1" fill="#0000b8"/>
<circle cx="601.66" cy="104.33" r="2.1" fill="#0000b8"/>
<circle cx="605.56" cy="90.36" r="2.1" fill="#0000b8"/>
<circle cx="609.46" cy="89.65" r="2.1" fill="#0000b8"/>
<circle cx="613.37" cy="104.33" r="2.1" fill="#0000b8"/>
<circle cx="617.27" cy="113.16" r="2.1" fill="#0000b8"/>
<circle cx="621.17" cy="128.69" r="2.1" fill="#0000b8"/>
<circle cx="625.07" cy="105.61" r="2.1" fill="#0000b8"/>
<circle cx="628.97" cy="124.28" r="2.1" fill="#0000b8"/>
<circle cx="632.88" cy="132.25" r="2.1" fill="#0000b8"/>
<circle cx="636.78" cy="138.95" r="2.1" fill="#0000b8"/>
<circle cx="640.68" cy="119.29" r="2.1" fill="#0000b8"/>
<circle cx="644.58" cy="123.56" r="2.1" fill="#0000b8"/>
<circle cx="648.48" cy="116.44" r="2.1" fill="#0000b8"/>
<circle cx="652.39" cy="83.66" r="2.1" fill="#0000b8"/>
<circle cx="656.29" cy="90.08" r="2.1" fill="#0000b8"/>
<circle cx="660.19" cy="110.03" r="2.1" fill="#0000b8"/>
<circle cx="664.09" cy="79.39" r="2.1" fill="#0000b8"/>
<circle cx="667.99" cy="72.12" r="2.1" fill="#0000b8"/>
<circle cx="671.90" cy="97.48" r="2.1" fill="#0000b8"/>
<circle cx="675.80" cy="95.92" r="2.1" fill="#0000b8"/>
<circle cx="679.70" cy="110.03" r="2.1" fill="#0000b8"/>
</g>
<line x1="488.50" y1="227.2" x2="488.50" y2="223.2" stroke="#555" stroke-width="1"/>
<line x1="512.40" y1="227.2" x2="512.40" y2="225.0" stroke="#555" stroke-width="1"/>
<line x1="536.30" y1="227.2" x2="536.30" y2="223.2" stroke="#555" stroke-width="1"/>
<line x1="560.20" y1="227.2" x2="560.20" y2="225.0" stroke="#555" stroke-width="1"/>
<line x1="584.10" y1="227.2" x2="584.10" y2="223.2" stroke="#555" stroke-width="1"/>
<line x1="608.00" y1="227.2" x2="608.00" y2="225.0" stroke="#555" stroke-width="1"/>
<line x1="631.90" y1="227.2" x2="631.90" y2="223.2" stroke="#555" stroke-width="1"/>
<line x1="655.80" y1="227.2" x2="655.80" y2="225.0" stroke="#555" stroke-width="1"/>
<line x1="679.70" y1="227.2" x2="679.70" y2="223.2" stroke="#555" stroke-width="1"/>
<line x1="488.5" y1="226.88" x2="490.7" y2="226.88" stroke="#555" stroke-width="1"/>
<line x1="488.5" y1="191.25" x2="492.5" y2="191.25" stroke="#555" stroke-width="1"/>
<line x1="488.5" y1="155.62" x2="490.7" y2="155.62" stroke="#555" stroke-width="1"/>
<line x1="488.5" y1="120.00" x2="492.5" y2="120.00" stroke="#555" stroke-width="1"/>
<line x1="488.5" y1="84.38" x2="490.7" y2="84.38" stroke="#555" stroke-width="1"/>
<line x1="488.5" y1="48.75" x2="492.5" y2="48.75" stroke="#555" stroke-width="1"/>
<line x1="488.5" y1="13.12" x2="490.7" y2="13.12" stroke="#555" stroke-width="1"/>
<rect x="488.5" y="13.0" width="34.8" height="40.40" fill="#fff" stroke="#c4c4c4" stroke-width="0.9"/>
<text x="492.1" y="20.8" font-family="Liberation Sans, sans-serif" font-size="7.9" fill="#333"><tspan font-style="italic">V</tspan><tspan font-style="italic" font-size="4.8" dy="1.9">G</tspan><tspan font-style="normal" dy="-1.9"> (V)</tspan></text>
<line x1="491.0" y1="30.60" x2="508.9" y2="30.60" stroke="#a00812" stroke-width="1.2"/>
<circle cx="500.0" cy="30.60" r="2.2" fill="#a00010"/>
<text x="510.9" y="33.50" font-family="Liberation Sans, sans-serif" font-size="8.1" fill="#222">0</text>
<line x1="491.0" y1="40.05" x2="508.9" y2="40.05" stroke="#111" stroke-width="1.2"/>
<circle cx="500.0" cy="40.05" r="2.2" fill="#000"/>
<text x="510.9" y="42.95" font-family="Liberation Sans, sans-serif" font-size="8.1" fill="#222">1</text>
<line x1="491.0" y1="49.50" x2="508.9" y2="49.50" stroke="#1010a8" stroke-width="1.2"/>
<circle cx="500.0" cy="49.50" r="2.2" fill="#0000b8"/>
<text x="510.9" y="52.40" font-family="Liberation Sans, sans-serif" font-size="8.1" fill="#222">1.5</text>
<rect x="653.50" y="13.0" width="26.2" height="18.70" fill="#fff" stroke="#aaa" stroke-width="0.8"/>
<text x="666.60" y="26.7" text-anchor="middle" font-family="Liberation Sans, sans-serif" font-size="13.5" fill="#111">2 T</text>
<path d="M488.5,12.7 H679.7 V227.2 H488.5 Z" fill="none" stroke="#555" stroke-width="1.1"/>
<text x="488.50" y="239.2" text-anchor="middle" font-family="Liberation Sans, sans-serif" font-size="9.4" fill="#222">-5.0</text>
<text x="536.30" y="239.2" text-anchor="middle" font-family="Liberation Sans, sans-serif" font-size="9.4" fill="#222">-2.5</text>
<text x="584.10" y="239.2" text-anchor="middle" font-family="Liberation Sans, sans-serif" font-size="9.4" fill="#222">0.0</text>
<text x="631.90" y="239.2" text-anchor="middle" font-family="Liberation Sans, sans-serif" font-size="9.4" fill="#222">2.5</text>
<text x="679.70" y="239.2" text-anchor="middle" font-family="Liberation Sans, sans-serif" font-size="9.4" fill="#222">5.0</text>
<text x="484.0" y="194.55" text-anchor="end" font-family="Liberation Sans, sans-serif" font-size="9.5" fill="#222">-5</text>
<text x="484.0" y="123.30" text-anchor="end" font-family="Liberation Sans, sans-serif" font-size="9.5" fill="#222">0</text>
<text x="484.0" y="52.05" text-anchor="end" font-family="Liberation Sans, sans-serif" font-size="9.5" fill="#222">5</text>
<text x="584.10" y="255.4" text-anchor="middle" font-family="Liberation Sans, sans-serif" font-size="11.4" fill="#111"><tspan font-style="italic">y</tspan> position (µm)</text>
<text transform="translate(9.8,118.2) rotate(-90)" text-anchor="middle" font-family="Liberation Sans, sans-serif" font-size="11.6" fill="#222"><tspan font-family="Liberation Serif, serif">Δ</tspan><tspan font-family="Liberation Serif, serif" font-style="italic">θ</tspan><tspan font-size="7.6" dy="2.2">K</tspan><tspan dy="-2.2"> (mrad)</tspan></text>
<text x="-0.5" y="13" font-family="Liberation Sans, sans-serif" font-size="17.5" font-weight="bold" fill="#000">a</text>
<text x="241.5" y="13" font-family="Liberation Sans, sans-serif" font-size="17.5" font-weight="bold" fill="#000">b</text>
<text x="467.5" y="13" font-family="Liberation Sans, sans-serif" font-size="17.5" font-weight="bold" fill="#000">c</text>
<text x="-0.5" y="278.6" font-family="Liberation Sans, sans-serif" font-size="17.5" font-weight="bold" fill="#000">d</text>
<line x1="89" y1="347.4" x2="617.5" y2="347.4" stroke="#222" stroke-width="1" stroke-dasharray="3,1.5"/>
<line x1="89" y1="364.9" x2="617.5" y2="364.9" stroke="#222" stroke-width="1" stroke-dasharray="3,1.5"/>
<line x1="89" y1="396.1" x2="617.5" y2="396.1" stroke="#222" stroke-width="1" stroke-dasharray="3,1.5"/>
<text x="80" y="352.2" text-anchor="end" font-family="Liberation Sans, sans-serif" font-size="12.7" fill="#111">1.5 V</text>
<text x="80" y="369.6" text-anchor="end" font-family="Liberation Sans, sans-serif" font-size="12.7" fill="#111">1 V</text>
<text x="80" y="400.8" text-anchor="end" font-family="Liberation Sans, sans-serif" font-size="12.7" fill="#111">0 V</text>
<text x="80.3" y="326.1" text-anchor="end" font-family="Liberation Sans, sans-serif" font-size="12.8" fill="#111"><tspan font-style="italic">V</tspan><tspan font-size="8.6" dy="2.4">G</tspan></text>
<text x="155.0" y="294.6" text-anchor="middle" font-family="Liberation Sans, sans-serif" font-size="12.5" fill="#111"><tspan font-style="italic">B</tspan><tspan font-style="italic" font-size="7.8" dy="3.2">z</tspan><tspan dy="-3.2"> = 0 T</tspan></text>
<text x="291.8" y="294.6" text-anchor="middle" font-family="Liberation Sans, sans-serif" font-size="12.5" fill="#111"><tspan font-style="italic">B</tspan><tspan font-style="italic" font-size="7.8" dy="3.2">z</tspan><tspan dy="-3.2"> = 0.5 T</tspan></text>
<text x="429.5" y="294.6" text-anchor="middle" font-family="Liberation Sans, sans-serif" font-size="12.5" fill="#111"><tspan font-style="italic">B</tspan><tspan font-style="italic" font-size="7.8" dy="3.2">z</tspan><tspan dy="-3.2"> = 1 T</tspan></text>
<text x="563.5" y="294.6" text-anchor="middle" font-family="Liberation Sans, sans-serif" font-size="12.5" fill="#111"><tspan font-style="italic">B</tspan><tspan font-style="italic" font-size="7.8" dy="3.2">z</tspan><tspan dy="-3.2"> = 2 T</tspan></text>
<linearGradient id="g1" gradientUnits="userSpaceOnUse" x1="101.0" y1="0" x2="209.0" y2="0"><stop offset="0" stop-color="#203f8c" stop-opacity="0.08"/><stop offset="0.12" stop-color="#203f8c" stop-opacity="1"/><stop offset="0.88" stop-color="#203f8c" stop-opacity="1"/><stop offset="1" stop-color="#203f8c" stop-opacity="0.08"/></linearGradient>
<path d="M101.00,307.40 L103.70,309.23 L106.40,311.02 L109.10,312.77 L111.80,314.47 L114.50,316.13 L117.20,317.73 L119.90,319.28 L122.60,320.75 L125.30,322.16 L128.00,323.49 L130.70,324.72 L133.40,325.86 L136.10,326.90 L138.80,327.82 L141.50,328.62 L144.20,329.28 L146.90,329.81 L149.60,330.19 L152.30,330.42 L155.00,330.50 L157.70,330.42 L160.40,330.19 L163.10,329.81 L165.80,329.28 L168.50,328.62 L171.20,327.82 L173.90,326.90 L176.60,325.86 L179.30,324.72 L182.00,323.49 L184.70,322.16 L187.40,320.75 L190.10,319.28 L192.80,317.73 L195.50,316.13 L198.20,314.47 L200.90,312.77 L203.60,311.02 L206.30,309.23 L209.00,307.40" fill="none" stroke="url(#g1)" stroke-width="1.1" stroke-linecap="round"/>
<linearGradient id="g2" gradientUnits="userSpaceOnUse" x1="101.0" y1="0" x2="209.0" y2="0"><stop offset="0" stop-color="#d02a2a" stop-opacity="0.08"/><stop offset="0.12" stop-color="#d02a2a" stop-opacity="1"/><stop offset="0.88" stop-color="#d02a2a" stop-opacity="1"/><stop offset="1" stop-color="#d02a2a" stop-opacity="0.08"/></linearGradient>
<path d="M101.00,313.50 L103.70,315.75 L106.40,317.96 L109.10,320.12 L111.80,322.22 L114.50,324.27 L117.20,326.25 L119.90,328.15 L122.60,329.98 L125.30,331.71 L128.00,333.35 L130.70,334.87 L133.40,336.28 L136.10,337.56 L138.80,338.69 L141.50,339.68 L144.20,340.50 L146.90,341.15 L149.60,341.62 L152.30,341.90 L155.00,342.00 L157.70,341.90 L160.40,341.62 L163.10,341.15 L165.80,340.50 L168.50,339.68 L171.20,338.69 L173.90,337.56 L176.60,336.28 L179.30,334.87 L182.00,333.35 L184.70,331.71 L187.40,329.98 L190.10,328.15 L192.80,326.25 L195.50,324.27 L198.20,322.22 L200.90,320.12 L203.60,317.96 L206.30,315.75 L209.00,313.50" fill="none" stroke="url(#g2)" stroke-width="1.1" stroke-linecap="round"/>
<linearGradient id="g3" gradientUnits="userSpaceOnUse" x1="101.0" y1="0" x2="209.0" y2="0"><stop offset="0" stop-color="#203f8c" stop-opacity="0.08"/><stop offset="0.12" stop-color="#203f8c" stop-opacity="1"/><stop offset="0.88" stop-color="#203f8c" stop-opacity="1"/><stop offset="1" stop-color="#203f8c" stop-opacity="0.08"/></linearGradient>
<path d="M101.00,439.20 L103.70,436.77 L106.40,434.40 L109.10,432.07 L111.80,429.80 L114.50,427.60 L117.20,425.47 L119.90,423.42 L122.60,421.45 L125.30,419.58 L128.00,417.82 L130.70,416.18 L133.40,414.66 L136.10,413.29 L138.80,412.06 L141.50,411.00 L144.20,410.12 L146.90,409.42 L149.60,408.91 L152.30,408.60 L155.00,408.50 L157.70,408.60 L160.40,408.91 L163.10,409.42 L165.80,410.12 L168.50,411.00 L171.20,412.06 L173.90,413.29 L176.60,414.66 L179.30,416.18 L182.00,417.82 L184.70,419.58 L187.40,421.45 L190.10,423.42 L192.80,425.47 L195.50,427.60 L198.20,429.80 L200.90,432.07 L203.60,434.40 L206.30,436.77 L209.00,439.20" fill="none" stroke="url(#g3)" stroke-width="1.1" stroke-linecap="round"/>
<linearGradient id="g4" gradientUnits="userSpaceOnUse" x1="101.0" y1="0" x2="209.0" y2="0"><stop offset="0" stop-color="#d02a2a" stop-opacity="0.08"/><stop offset="0.12" stop-color="#d02a2a" stop-opacity="1"/><stop offset="0.88" stop-color="#d02a2a" stop-opacity="1"/><stop offset="1" stop-color="#d02a2a" stop-opacity="0.08"/></linearGradient>
<path d="M101.00,446.00 L103.70,443.95 L106.40,441.93 L109.10,439.96 L111.80,438.04 L114.50,436.18 L117.20,434.37 L119.90,432.63 L122.60,430.97 L125.30,429.39 L128.00,427.89 L130.70,426.50 L133.40,425.22 L136.10,424.05 L138.80,423.02 L141.50,422.12 L144.20,421.37 L146.90,420.78 L149.60,420.35 L152.30,420.09 L155.00,420.00 L157.70,420.09 L160.40,420.35 L163.10,420.78 L165.80,421.37 L168.50,422.12 L171.20,423.02 L173.90,424.05 L176.60,425.22 L179.30,426.50 L182.00,427.89 L184.70,429.39 L187.40,430.97 L190.10,432.63 L192.80,434.37 L195.50,436.18 L198.20,438.04 L200.90,439.96 L203.60,441.93 L206.30,443.95 L209.00,446.00" fill="none" stroke="url(#g4)" stroke-width="1.1" stroke-linecap="round"/>
<line x1="121.7" y1="327.4" x2="206.8" y2="443.8" stroke="#000" stroke-width="2"/>
<line x1="187.2" y1="327.4" x2="101.9" y2="443.8" stroke="#000" stroke-width="2"/>
<line x1="111.7" y1="330.4" x2="111.7" y2="322.4" stroke="#ff0000" stroke-width="3" stroke-linecap="round"/>
<path d="M111.7,313.4 L107.3,322.4 L116.10000000000001,322.4 Z" fill="#ff0000"/>
<line x1="197.7" y1="305.0" x2="197.7" y2="313.9" stroke="#0a2aff" stroke-width="3" stroke-linecap="round"/>
<path d="M197.7,322.7 L193.29999999999998,313.9 L202.1,313.9 Z" fill="#0a2aff"/>
<line x1="142.4" y1="392.5" x2="142.4" y2="384.0" stroke="#ff0000" stroke-width="3" stroke-linecap="round"/>
<path d="M142.4,375.0 L138.0,384.0 L146.8,384.0 Z" fill="#ff0000"/>
<line x1="165.1" y1="374.8" x2="165.1" y2="383.09999999999997" stroke="#0a2aff" stroke-width="3" stroke-linecap="round"/>
<path d="M165.1,391.9 L160.7,383.09999999999997 L169.5,383.09999999999997 Z" fill="#0a2aff"/>
<line x1="124.2" y1="412.5" x2="124.2" y2="421.2" stroke="#0a2aff" stroke-width="3" stroke-linecap="round"/>
<path d="M124.2,430.0 L119.8,421.2 L128.6,421.2 Z" fill="#0a2aff"/>
<line x1="185.3" y1="438.1" x2="185.3" y2="430.2" stroke="#ff0000" stroke-width="3" stroke-linecap="round"/>
<path d="M185.3,421.2 L180.9,430.2 L189.70000000000002,430.2 Z" fill="#ff0000"/>
<linearGradient id="g5" gradientUnits="userSpaceOnUse" x1="237.8" y1="0" x2="345.8" y2="0"><stop offset="0" stop-color="#203f8c" stop-opacity="0.08"/><stop offset="0.12" stop-color="#203f8c" stop-opacity="1"/><stop offset="0.88" stop-color="#203f8c" stop-opacity="1"/><stop offset="1" stop-color="#203f8c" stop-opacity="0.08"/></linearGradient>
<path d="M237.80,307.40 L240.50,309.23 L243.20,311.02 L245.90,312.77 L248.60,314.47 L251.30,316.13 L254.00,317.73 L256.70,319.28 L259.40,320.75 L262.10,322.16 L264.80,323.49 L267.50,324.72 L270.20,325.86 L272.90,326.90 L275.60,327.82 L278.30,328.62 L281.00,329.28 L283.70,329.81 L286.40,330.19 L289.10,330.42 L291.80,330.50 L294.50,330.42 L297.20,330.19 L299.90,329.81 L302.60,329.28 L305.30,328.62 L308.00,327.82 L310.70,326.90 L313.40,325.86 L316.10,324.72 L318.80,323.49 L321.50,322.16 L324.20,320.75 L326.90,319.28 L329.60,317.73 L332.30,316.13 L335.00,314.47 L337.70,312.77 L340.40,311.02 L343.10,309.23 L345.80,307.40" fill="none" stroke="url(#g5)" stroke-width="1.1" stroke-linecap="round"/>
<linearGradient id="g6" gradientUnits="userSpaceOnUse" x1="237.8" y1="0" x2="345.8" y2="0"><stop offset="0" stop-color="#d02a2a" stop-opacity="0.08"/><stop offset="0.12" stop-color="#d02a2a" stop-opacity="1"/><stop offset="0.88" stop-color="#d02a2a" stop-opacity="1"/><stop offset="1" stop-color="#d02a2a" stop-opacity="0.08"/></linearGradient>
<path d="M237.80,314.00 L240.50,316.22 L243.20,318.40 L245.90,320.53 L248.60,322.60 L251.30,324.62 L254.00,326.57 L256.70,328.45 L259.40,330.24 L262.10,331.95 L264.80,333.57 L267.50,335.07 L270.20,336.46 L272.90,337.72 L275.60,338.84 L278.30,339.81 L281.00,340.62 L283.70,341.26 L286.40,341.73 L289.10,342.01 L291.80,342.10 L294.50,342.01 L297.20,341.73 L299.90,341.26 L302.60,340.62 L305.30,339.81 L308.00,338.84 L310.70,337.72 L313.40,336.46 L316.10,335.07 L318.80,333.57 L321.50,331.95 L324.20,330.24 L326.90,328.45 L329.60,326.57 L332.30,324.62 L335.00,322.60 L337.70,320.53 L340.40,318.40 L343.10,316.22 L345.80,314.00" fill="none" stroke="url(#g6)" stroke-width="1.1" stroke-linecap="round"/>
<linearGradient id="g7" gradientUnits="userSpaceOnUse" x1="237.8" y1="0" x2="345.8" y2="0"><stop offset="0" stop-color="#203f8c" stop-opacity="0.08"/><stop offset="0.12" stop-color="#203f8c" stop-opacity="1"/><stop offset="0.88" stop-color="#203f8c" stop-opacity="1"/><stop offset="1" stop-color="#203f8c" stop-opacity="0.08"/></linearGradient>
<path d="M237.80,437.20 L240.50,434.93 L243.20,432.71 L245.90,430.53 L248.60,428.41 L251.30,426.36 L254.00,424.36 L256.70,422.44 L259.40,420.61 L262.10,418.86 L264.80,417.21 L267.50,415.68 L270.20,414.26 L272.90,412.97 L275.60,411.83 L278.30,410.84 L281.00,410.01 L283.70,409.36 L286.40,408.88 L289.10,408.60 L291.80,408.50 L294.50,408.60 L297.20,408.88 L299.90,409.36 L302.60,410.01 L305.30,410.84 L308.00,411.83 L310.70,412.97 L313.40,414.26 L316.10,415.68 L318.80,417.21 L321.50,418.86 L324.20,420.61 L326.90,422.44 L329.60,424.36 L332.30,426.36 L335.00,428.41 L337.70,430.53 L340.40,432.71 L343.10,434.93 L345.80,437.20" fill="none" stroke="url(#g7)" stroke-width="1.1" stroke-linecap="round"/>
<linearGradient id="g8" gradientUnits="userSpaceOnUse" x1="237.8" y1="0" x2="345.8" y2="0"><stop offset="0" stop-color="#d02a2a" stop-opacity="0.08"/><stop offset="0.12" stop-color="#d02a2a" stop-opacity="1"/><stop offset="0.88" stop-color="#d02a2a" stop-opacity="1"/><stop offset="1" stop-color="#d02a2a" stop-opacity="0.08"/></linearGradient>
<path d="M237.80,446.10 L240.50,443.99 L243.20,441.92 L245.90,439.90 L248.60,437.93 L251.30,436.01 L254.00,434.16 L256.70,432.37 L259.40,430.66 L262.10,429.04 L264.80,427.51 L267.50,426.08 L270.20,424.76 L272.90,423.56 L275.60,422.50 L278.30,421.58 L281.00,420.81 L283.70,420.20 L286.40,419.76 L289.10,419.49 L291.80,419.40 L294.50,419.49 L297.20,419.76 L299.90,420.20 L302.60,420.81 L305.30,421.58 L308.00,422.50 L310.70,423.56 L313.40,424.76 L316.10,426.08 L318.80,427.51 L321.50,429.04 L324.20,430.66 L326.90,432.37 L329.60,434.16 L332.30,436.01 L335.00,437.93 L337.70,439.90 L340.40,441.92 L343.10,443.99 L345.80,446.10" fill="none" stroke="url(#g8)" stroke-width="1.1" stroke-linecap="round"/>
<path d="M258.00,319.00 L259.69,321.86 L261.38,324.68 L263.07,327.46 L264.76,330.20 L266.45,332.88 L268.14,335.51 L269.83,338.07 L271.52,340.55 L273.21,342.95 L274.90,345.24 L276.59,347.41 L278.28,349.45 L279.97,351.34 L281.66,353.04 L283.35,354.54 L285.04,355.82 L286.73,356.84 L288.42,357.59 L290.11,358.05 L291.80,358.20 L293.49,358.05 L295.18,357.59 L296.87,356.84 L298.56,355.82 L300.25,354.54 L301.94,353.04 L303.63,351.34 L305.32,349.45 L307.01,347.41 L308.70,345.24 L310.39,342.95 L312.08,340.55 L313.77,338.07 L315.46,335.51 L317.15,332.88 L318.84,330.20 L320.53,327.46 L322.22,324.68 L323.91,321.86 L325.60,319.00" fill="none" stroke="#000" stroke-width="2" stroke-linecap="round"/>
<path d="M237.60,443.20 L240.31,438.09 L243.02,433.04 L245.73,428.08 L248.44,423.20 L251.15,418.41 L253.86,413.74 L256.57,409.20 L259.28,404.80 L261.99,400.56 L264.70,396.52 L267.41,392.69 L270.12,389.11 L272.83,385.82 L275.54,382.84 L278.25,380.23 L280.96,378.02 L283.67,376.25 L286.38,374.95 L289.09,374.16 L291.80,373.90 L294.51,374.16 L297.22,374.95 L299.93,376.25 L302.64,378.02 L305.35,380.23 L308.06,382.84 L310.77,385.82 L313.48,389.11 L316.19,392.69 L318.90,396.52 L321.61,400.56 L324.32,404.80 L327.03,409.20 L329.74,413.74 L332.45,418.41 L335.16,423.20 L337.87,428.08 L340.58,433.04 L343.29,438.09 L346.00,443.20" fill="none" stroke="#000" stroke-width="2" stroke-linecap="round"/>
<linearGradient id="g9" gradientUnits="userSpaceOnUse" x1="378.0" y1="0" x2="481.0" y2="0"><stop offset="0" stop-color="#203f8c" stop-opacity="0.08"/><stop offset="0.12" stop-color="#203f8c" stop-opacity="1"/><stop offset="0.88" stop-color="#203f8c" stop-opacity="1"/><stop offset="1" stop-color="#203f8c" stop-opacity="0.08"/></linearGradient>
<path d="M378.00,305.00 L380.57,306.82 L383.15,308.60 L385.73,310.35 L388.30,312.04 L390.88,313.69 L393.45,315.28 L396.02,316.80 L398.60,318.26 L401.18,319.65 L403.75,320.95 L406.32,322.17 L408.90,323.28 L411.48,324.30 L414.05,325.20 L416.62,325.97 L419.20,326.62 L421.77,327.13 L424.35,327.50 L426.93,327.73 L429.50,327.80 L432.07,327.73 L434.65,327.50 L437.23,327.13 L439.80,326.62 L442.38,325.97 L444.95,325.20 L447.52,324.30 L450.10,323.28 L452.68,322.17 L455.25,320.95 L457.82,319.65 L460.40,318.26 L462.98,316.80 L465.55,315.28 L468.12,313.69 L470.70,312.04 L473.27,310.35 L475.85,308.60 L478.43,306.82 L481.00,305.00" fill="none" stroke="url(#g9)" stroke-width="1.1" stroke-linecap="round"/>
<linearGradient id="g10" gradientUnits="userSpaceOnUse" x1="378.0" y1="0" x2="481.0" y2="0"><stop offset="0" stop-color="#d02a2a" stop-opacity="0.08"/><stop offset="0.12" stop-color="#d02a2a" stop-opacity="1"/><stop offset="0.88" stop-color="#d02a2a" stop-opacity="1"/><stop offset="1" stop-color="#d02a2a" stop-opacity="0.08"/></linearGradient>
<path d="M378.00,316.40 L380.57,318.64 L383.15,320.84 L385.73,322.99 L388.30,325.08 L390.88,327.11 L393.45,329.06 L396.02,330.95 L398.60,332.75 L401.18,334.45 L403.75,336.06 L406.32,337.56 L408.90,338.93 L411.48,340.18 L414.05,341.29 L416.62,342.25 L419.20,343.05 L421.77,343.68 L424.35,344.13 L426.93,344.41 L429.50,344.50 L432.07,344.41 L434.65,344.13 L437.23,343.68 L439.80,343.05 L442.38,342.25 L444.95,341.29 L447.52,340.18 L450.10,338.93 L452.68,337.56 L455.25,336.06 L457.82,334.45 L460.40,332.75 L462.98,330.95 L465.55,329.06 L468.12,327.11 L470.70,325.08 L473.27,322.99 L475.85,320.84 L478.43,318.64 L481.00,316.40" fill="none" stroke="url(#g10)" stroke-width="1.1" stroke-linecap="round"/>
<linearGradient id="g11" gradientUnits="userSpaceOnUse" x1="378.0" y1="0" x2="481.0" y2="0"><stop offset="0" stop-color="#203f8c" stop-opacity="0.08"/><stop offset="0.12" stop-color="#203f8c" stop-opacity="1"/><stop offset="0.88" stop-color="#203f8c" stop-opacity="1"/><stop offset="1" stop-color="#203f8c" stop-opacity="0.08"/></linearGradient>
<path d="M378.00,433.30 L380.57,430.94 L383.15,428.64 L385.73,426.38 L388.30,424.19 L390.88,422.06 L393.45,420.00 L396.02,418.03 L398.60,416.14 L401.18,414.35 L403.75,412.66 L406.32,411.09 L408.90,409.64 L411.48,408.33 L414.05,407.17 L416.62,406.16 L419.20,405.33 L421.77,404.66 L424.35,404.19 L426.93,403.90 L429.50,403.80 L432.07,403.90 L434.65,404.19 L437.23,404.66 L439.80,405.33 L442.38,406.16 L444.95,407.17 L447.52,408.33 L450.10,409.64 L452.68,411.09 L455.25,412.66 L457.82,414.35 L460.40,416.14 L462.98,418.03 L465.55,420.00 L468.12,422.06 L470.70,424.19 L473.27,426.38 L475.85,428.64 L478.43,430.94 L481.00,433.30" fill="none" stroke="url(#g11)" stroke-width="1.1" stroke-linecap="round"/>
<linearGradient id="g12" gradientUnits="userSpaceOnUse" x1="385.0" y1="0" x2="474.0" y2="0"><stop offset="0" stop-color="#d02a2a" stop-opacity="0.08"/><stop offset="0.12" stop-color="#d02a2a" stop-opacity="1"/><stop offset="0.88" stop-color="#d02a2a" stop-opacity="1"/><stop offset="1" stop-color="#d02a2a" stop-opacity="0.08"/></linearGradient>
<path d="M385.00,447.00 L387.23,445.33 L389.45,443.69 L391.68,442.10 L393.90,440.57 L396.12,439.08 L398.35,437.65 L400.57,436.28 L402.80,434.98 L405.02,433.76 L407.25,432.61 L409.48,431.54 L411.70,430.57 L413.93,429.69 L416.15,428.92 L418.38,428.25 L420.60,427.70 L422.82,427.27 L425.05,426.95 L427.27,426.76 L429.50,426.70 L431.73,426.76 L433.95,426.95 L436.18,427.27 L438.40,427.70 L440.62,428.25 L442.85,428.92 L445.07,429.69 L447.30,430.57 L449.52,431.54 L451.75,432.61 L453.98,433.76 L456.20,434.98 L458.43,436.28 L460.65,437.65 L462.88,439.08 L465.10,440.57 L467.32,442.10 L469.55,443.69 L471.77,445.33 L474.00,447.00" fill="none" stroke="url(#g12)" stroke-width="1.1" stroke-linecap="round"/>
<path d="M397.50,323.30 L399.10,325.57 L400.70,327.81 L402.30,330.00 L403.90,332.15 L405.50,334.25 L407.10,336.29 L408.70,338.27 L410.30,340.18 L411.90,342.00 L413.50,343.74 L415.10,345.37 L416.70,346.89 L418.30,348.27 L419.90,349.52 L421.50,350.60 L423.10,351.52 L424.70,352.24 L426.30,352.77 L427.90,353.09 L429.50,353.20 L431.10,353.09 L432.70,352.77 L434.30,352.24 L435.90,351.52 L437.50,350.60 L439.10,349.52 L440.70,348.27 L442.30,346.89 L443.90,345.37 L445.50,343.74 L447.10,342.00 L448.70,340.18 L450.30,338.27 L451.90,336.29 L453.50,334.25 L455.10,332.15 L456.70,330.00 L458.30,327.81 L459.90,325.57 L461.50,323.30" fill="none" stroke="#000" stroke-width="2" stroke-linecap="round"/>
<path d="M376.70,436.00 L379.34,432.64 L381.98,429.34 L384.62,426.08 L387.26,422.88 L389.90,419.75 L392.54,416.69 L395.18,413.72 L397.82,410.85 L400.46,408.09 L403.10,405.45 L405.74,402.96 L408.38,400.64 L411.02,398.50 L413.66,396.57 L416.30,394.88 L418.94,393.45 L421.58,392.31 L424.22,391.48 L426.86,390.97 L429.50,390.80 L432.14,390.97 L434.78,391.48 L437.42,392.31 L440.06,393.45 L442.70,394.88 L445.34,396.57 L447.98,398.50 L450.62,400.64 L453.26,402.96 L455.90,405.45 L458.54,408.09 L461.18,410.85 L463.82,413.72 L466.46,416.69 L469.10,419.75 L471.74,422.88 L474.38,426.08 L477.02,429.34 L479.66,432.64 L482.30,436.00" fill="none" stroke="#000" stroke-width="2" stroke-linecap="round"/>
<linearGradient id="g13" gradientUnits="userSpaceOnUse" x1="509.5" y1="0" x2="617.5" y2="0"><stop offset="0" stop-color="#203f8c" stop-opacity="0.08"/><stop offset="0.12" stop-color="#203f8c" stop-opacity="1"/><stop offset="0.88" stop-color="#203f8c" stop-opacity="1"/><stop offset="1" stop-color="#203f8c" stop-opacity="0.08"/></linearGradient>
<path d="M509.50,298.60 L512.20,300.48 L514.90,302.32 L517.60,304.13 L520.30,305.89 L523.00,307.59 L525.70,309.25 L528.40,310.84 L531.10,312.36 L533.80,313.81 L536.50,315.17 L539.20,316.45 L541.90,317.62 L544.60,318.69 L547.30,319.64 L550.00,320.46 L552.70,321.15 L555.40,321.69 L558.10,322.08 L560.80,322.32 L563.50,322.40 L566.20,322.32 L568.90,322.08 L571.60,321.69 L574.30,321.15 L577.00,320.46 L579.70,319.64 L582.40,318.69 L585.10,317.62 L587.80,316.45 L590.50,315.17 L593.20,313.81 L595.90,312.36 L598.60,310.84 L601.30,309.25 L604.00,307.59 L606.70,305.89 L609.40,304.13 L612.10,302.32 L614.80,300.48 L617.50,298.60" fill="none" stroke="url(#g13)" stroke-width="1.1" stroke-linecap="round"/>
<linearGradient id="g14" gradientUnits="userSpaceOnUse" x1="509.5" y1="0" x2="617.5" y2="0"><stop offset="0" stop-color="#d02a2a" stop-opacity="0.08"/><stop offset="0.12" stop-color="#d02a2a" stop-opacity="1"/><stop offset="0.88" stop-color="#d02a2a" stop-opacity="1"/><stop offset="1" stop-color="#d02a2a" stop-opacity="0.08"/></linearGradient>
<path d="M509.50,322.70 L512.20,324.86 L514.90,326.97 L517.60,329.04 L520.30,331.06 L523.00,333.02 L525.70,334.91 L528.40,336.74 L531.10,338.48 L533.80,340.14 L536.50,341.71 L539.20,343.17 L541.90,344.52 L544.60,345.74 L547.30,346.83 L550.00,347.78 L552.70,348.56 L555.40,349.19 L558.10,349.64 L560.80,349.91 L563.50,350.00 L566.20,349.91 L568.90,349.64 L571.60,349.19 L574.30,348.56 L577.00,347.78 L579.70,346.83 L582.40,345.74 L585.10,344.52 L587.80,343.17 L590.50,341.71 L593.20,340.14 L595.90,338.48 L598.60,336.74 L601.30,334.91 L604.00,333.02 L606.70,331.06 L609.40,329.04 L612.10,326.97 L614.80,324.86 L617.50,322.70" fill="none" stroke="url(#g14)" stroke-width="1.1" stroke-linecap="round"/>
<path d="M529.00,325.00 L530.73,326.59 L532.45,328.17 L534.17,329.72 L535.90,331.24 L537.62,332.74 L539.35,334.21 L541.08,335.64 L542.80,337.02 L544.52,338.36 L546.25,339.64 L547.98,340.86 L549.70,342.00 L551.42,343.05 L553.15,344.01 L554.88,344.85 L556.60,345.56 L558.33,346.14 L560.05,346.56 L561.77,346.81 L563.50,346.90 L565.23,346.81 L566.95,346.56 L568.67,346.14 L570.40,345.56 L572.12,344.85 L573.85,344.01 L575.58,343.05 L577.30,342.00 L579.02,340.86 L580.75,339.64 L582.48,338.36 L584.20,337.02 L585.92,335.64 L587.65,334.21 L589.38,332.74 L591.10,331.24 L592.83,329.72 L594.55,328.17 L596.27,326.59 L598.00,325.00" fill="none" stroke="#a8a8a8" stroke-width="2" stroke-linecap="round"/>
<linearGradient id="g15" gradientUnits="userSpaceOnUse" x1="509.5" y1="0" x2="617.5" y2="0"><stop offset="0" stop-color="#203f8c" stop-opacity="0.08"/><stop offset="0.12" stop-color="#203f8c" stop-opacity="1"/><stop offset="0.88" stop-color="#203f8c" stop-opacity="1"/><stop offset="1" stop-color="#203f8c" stop-opacity="0.08"/></linearGradient>
<path d="M509.50,433.10 L512.20,430.60 L514.90,428.15 L517.60,425.76 L520.30,423.43 L523.00,421.16 L525.70,418.97 L528.40,416.85 L531.10,414.83 L533.80,412.91 L536.50,411.10 L539.20,409.40 L541.90,407.84 L544.60,406.43 L547.30,405.17 L550.00,404.08 L552.70,403.16 L555.40,402.44 L558.10,401.92 L560.80,401.61 L563.50,401.50 L566.20,401.61 L568.90,401.92 L571.60,402.44 L574.30,403.16 L577.00,404.08 L579.70,405.17 L582.40,406.43 L585.10,407.84 L587.80,409.40 L590.50,411.10 L593.20,412.91 L595.90,414.83 L598.60,416.85 L601.30,418.97 L604.00,421.16 L606.70,423.43 L609.40,425.76 L612.10,428.15 L614.80,430.60 L617.50,433.10" fill="none" stroke="url(#g15)" stroke-width="1.1" stroke-linecap="round"/>
<path d="M508.50,443.80 L511.25,440.86 L514.00,437.96 L516.75,435.10 L519.50,432.29 L522.25,429.53 L525.00,426.84 L527.75,424.22 L530.50,421.68 L533.25,419.24 L536.00,416.91 L538.75,414.69 L541.50,412.62 L544.25,410.72 L547.00,408.99 L549.75,407.48 L552.50,406.19 L555.25,405.16 L558.00,404.41 L560.75,403.95 L563.50,403.80 L566.25,403.95 L569.00,404.41 L571.75,405.16 L574.50,406.19 L577.25,407.48 L580.00,408.99 L582.75,410.72 L585.50,412.62 L588.25,414.69 L591.00,416.91 L593.75,419.24 L596.50,421.68 L599.25,424.22 L602.00,426.84 L604.75,429.53 L607.50,432.29 L610.25,435.10 L613.00,437.96 L615.75,440.86 L618.50,443.80" fill="none" stroke="#a8a8a8" stroke-width="2" stroke-linecap="round"/>
<linearGradient id="g16" gradientUnits="userSpaceOnUse" x1="525.5" y1="0" x2="601.5" y2="0"><stop offset="0" stop-color="#d02a2a" stop-opacity="0.08"/><stop offset="0.12" stop-color="#d02a2a" stop-opacity="1"/><stop offset="0.88" stop-color="#d02a2a" stop-opacity="1"/><stop offset="1" stop-color="#d02a2a" stop-opacity="0.08"/></linearGradient>
<path d="M525.50,449.50 L527.40,448.10 L529.30,446.75 L531.20,445.44 L533.10,444.17 L535.00,442.95 L536.90,441.79 L538.80,440.68 L540.70,439.63 L542.60,438.65 L544.50,437.73 L546.40,436.89 L548.30,436.12 L550.20,435.43 L552.10,434.82 L554.00,434.30 L555.90,433.87 L557.80,433.54 L559.70,433.29 L561.60,433.15 L563.50,433.10 L565.40,433.15 L567.30,433.29 L569.20,433.54 L571.10,433.87 L573.00,434.30 L574.90,434.82 L576.80,435.43 L578.70,436.12 L580.60,436.89 L582.50,437.73 L584.40,438.65 L586.30,439.63 L588.20,440.68 L590.10,441.79 L592.00,442.95 L593.90,444.17 L595.80,445.44 L597.70,446.75 L599.60,448.10 L601.50,449.50" fill="none" stroke="url(#g16)" stroke-width="1.1" stroke-linecap="round"/>
</svg></body></html>
